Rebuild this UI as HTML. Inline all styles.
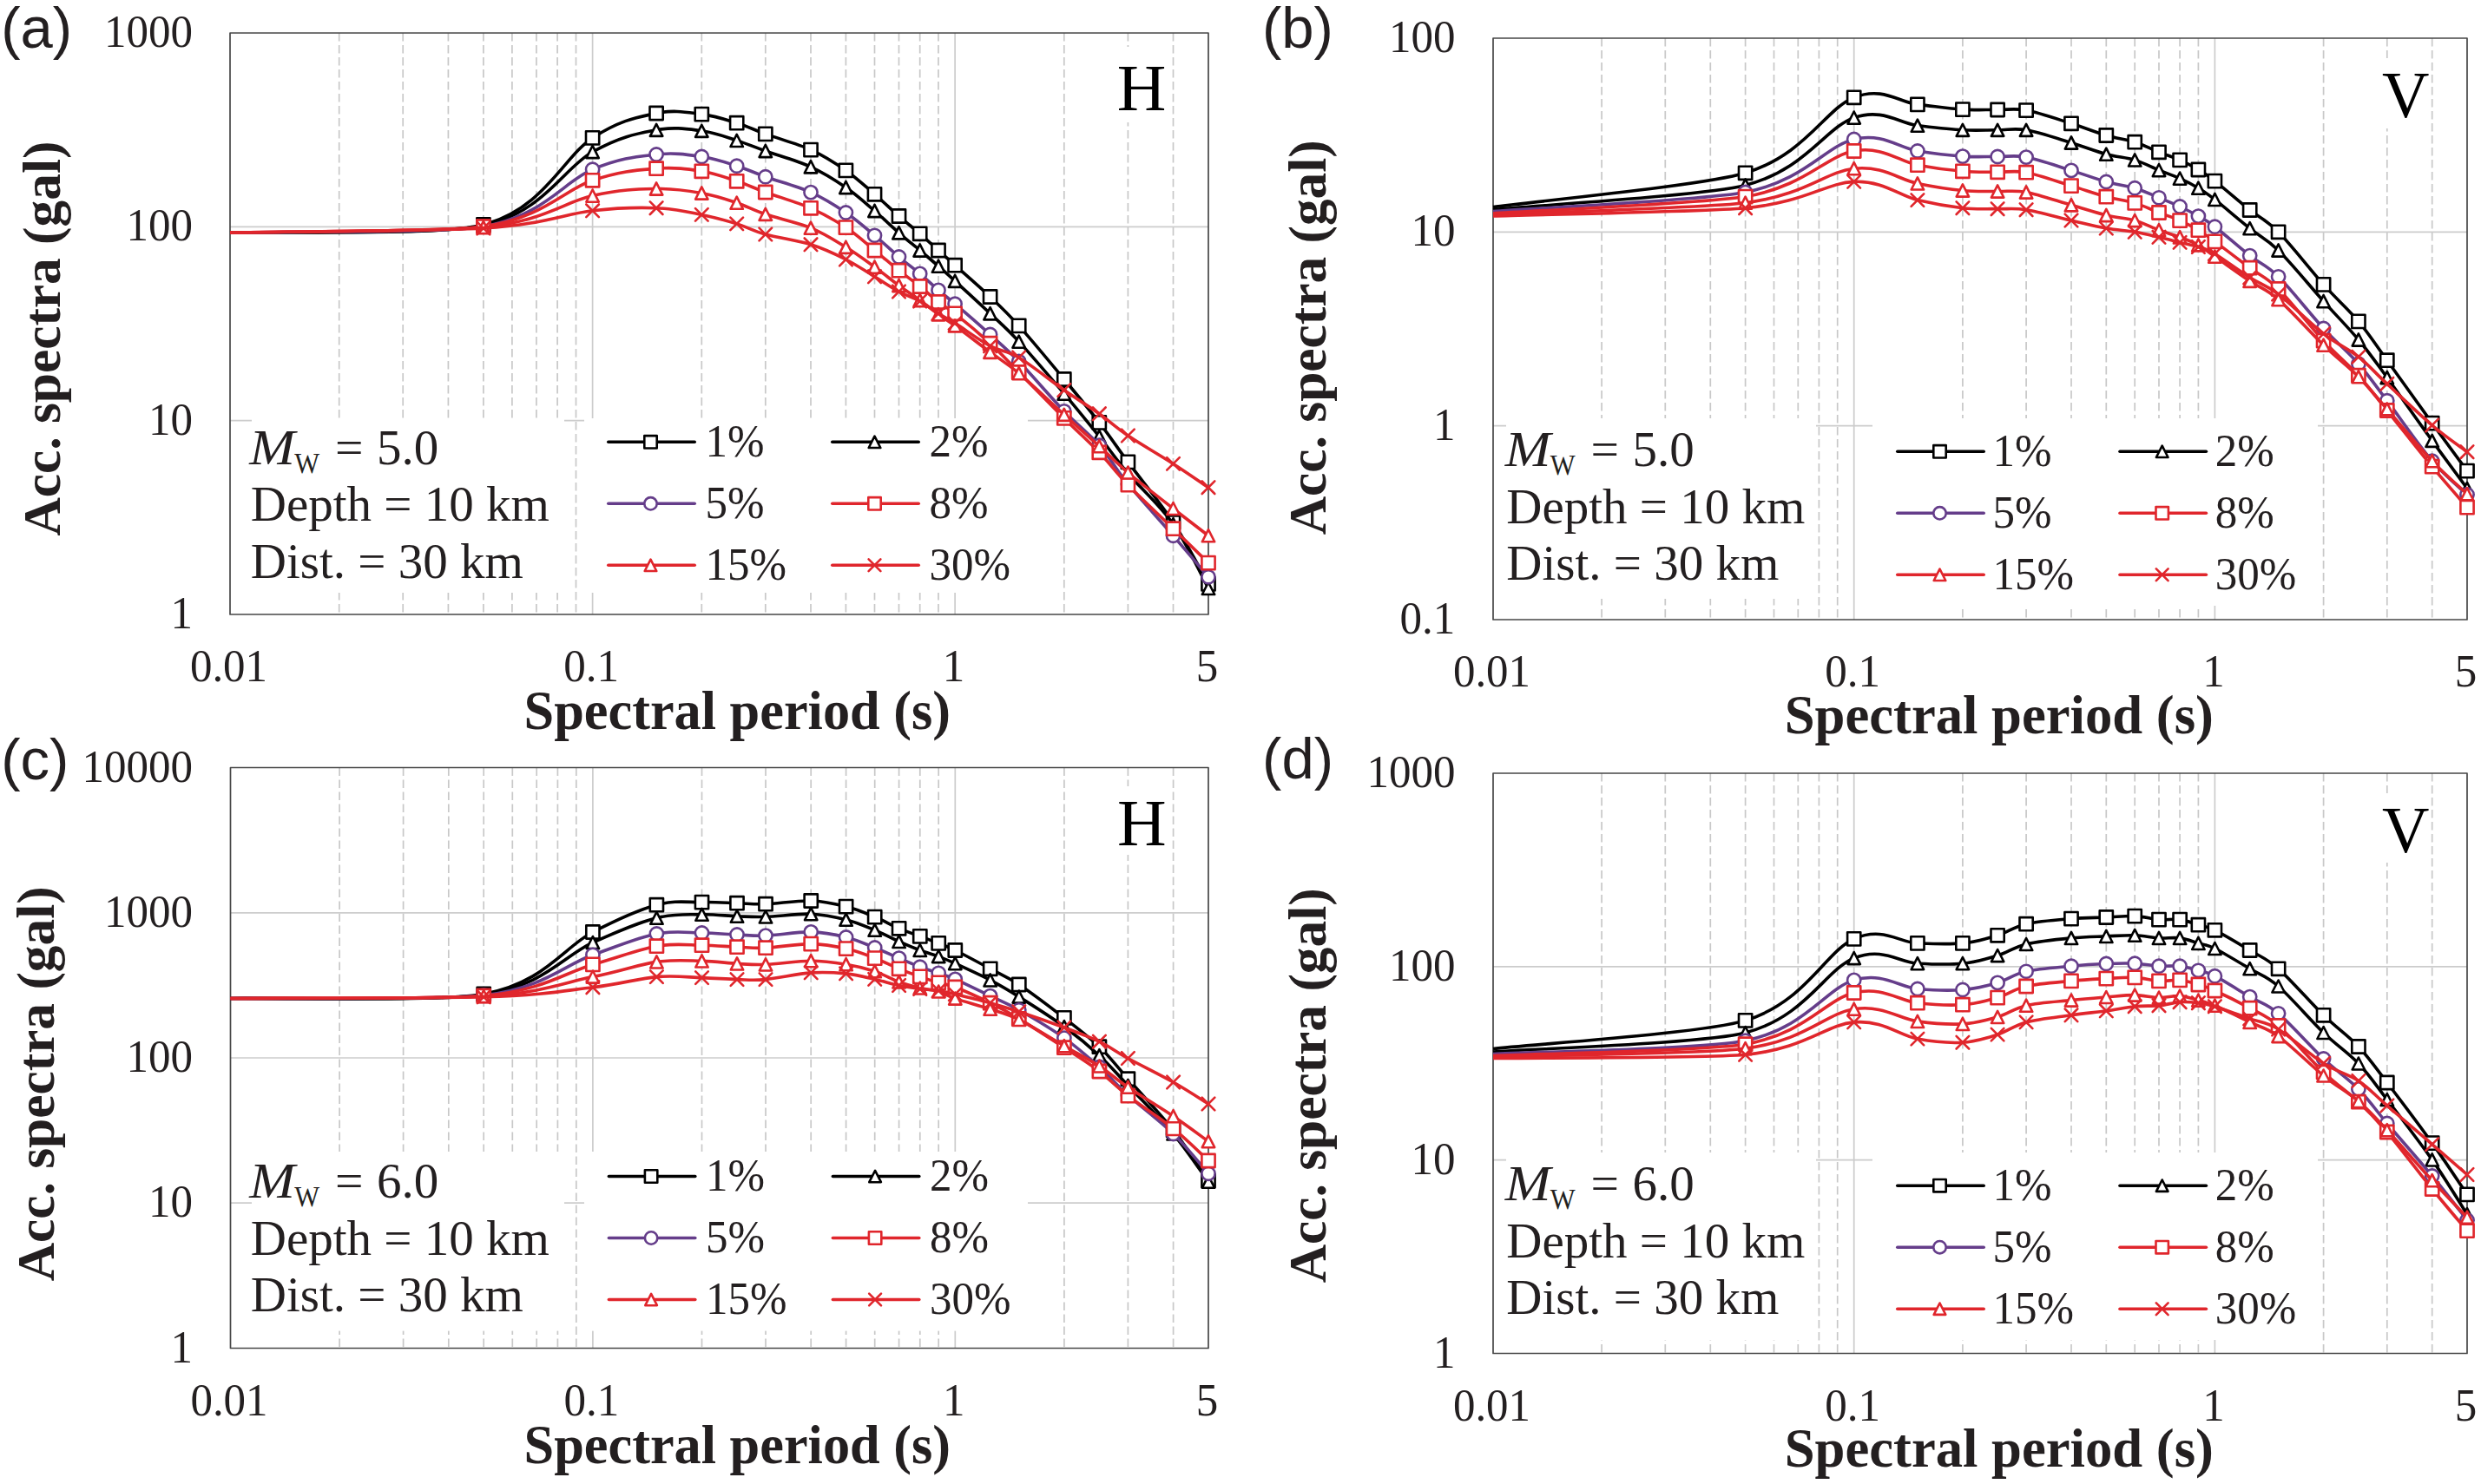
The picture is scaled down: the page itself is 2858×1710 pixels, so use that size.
<!DOCTYPE html>
<html><head><meta charset="utf-8"><style>html,body{margin:0;padding:0;background:#fff;overflow:hidden}svg{display:block}</style></head><body>
<svg width="2858" height="1710" viewBox="0 0 2858 1710">
<rect width="2858" height="1710" fill="#fff"/>
<g>
<line x1="390.7" y1="38.0" x2="390.7" y2="708.0" stroke="#c8c8c8" stroke-width="1.7" stroke-dasharray="9.5 4.5"/>
<line x1="464.2" y1="38.0" x2="464.2" y2="708.0" stroke="#c8c8c8" stroke-width="1.7" stroke-dasharray="9.5 4.5"/>
<line x1="516.4" y1="38.0" x2="516.4" y2="708.0" stroke="#c8c8c8" stroke-width="1.7" stroke-dasharray="9.5 4.5"/>
<line x1="556.9" y1="38.0" x2="556.9" y2="708.0" stroke="#c8c8c8" stroke-width="1.7" stroke-dasharray="9.5 4.5"/>
<line x1="589.9" y1="38.0" x2="589.9" y2="708.0" stroke="#c8c8c8" stroke-width="1.7" stroke-dasharray="9.5 4.5"/>
<line x1="617.9" y1="38.0" x2="617.9" y2="708.0" stroke="#c8c8c8" stroke-width="1.7" stroke-dasharray="9.5 4.5"/>
<line x1="642.1" y1="38.0" x2="642.1" y2="708.0" stroke="#c8c8c8" stroke-width="1.7" stroke-dasharray="9.5 4.5"/>
<line x1="663.5" y1="38.0" x2="663.5" y2="708.0" stroke="#c8c8c8" stroke-width="1.7" stroke-dasharray="9.5 4.5"/>
<line x1="808.3" y1="38.0" x2="808.3" y2="708.0" stroke="#c8c8c8" stroke-width="1.7" stroke-dasharray="9.5 4.5"/>
<line x1="881.8" y1="38.0" x2="881.8" y2="708.0" stroke="#c8c8c8" stroke-width="1.7" stroke-dasharray="9.5 4.5"/>
<line x1="934.0" y1="38.0" x2="934.0" y2="708.0" stroke="#c8c8c8" stroke-width="1.7" stroke-dasharray="9.5 4.5"/>
<line x1="974.4" y1="38.0" x2="974.4" y2="708.0" stroke="#c8c8c8" stroke-width="1.7" stroke-dasharray="9.5 4.5"/>
<line x1="1007.5" y1="38.0" x2="1007.5" y2="708.0" stroke="#c8c8c8" stroke-width="1.7" stroke-dasharray="9.5 4.5"/>
<line x1="1035.5" y1="38.0" x2="1035.5" y2="708.0" stroke="#c8c8c8" stroke-width="1.7" stroke-dasharray="9.5 4.5"/>
<line x1="1059.7" y1="38.0" x2="1059.7" y2="708.0" stroke="#c8c8c8" stroke-width="1.7" stroke-dasharray="9.5 4.5"/>
<line x1="1081.0" y1="38.0" x2="1081.0" y2="708.0" stroke="#c8c8c8" stroke-width="1.7" stroke-dasharray="9.5 4.5"/>
<line x1="1225.8" y1="38.0" x2="1225.8" y2="708.0" stroke="#c8c8c8" stroke-width="1.7" stroke-dasharray="9.5 4.5"/>
<line x1="1299.4" y1="38.0" x2="1299.4" y2="708.0" stroke="#c8c8c8" stroke-width="1.7" stroke-dasharray="9.5 4.5"/>
<line x1="1351.5" y1="38.0" x2="1351.5" y2="708.0" stroke="#c8c8c8" stroke-width="1.7" stroke-dasharray="9.5 4.5"/>
<line x1="682.6" y1="38.0" x2="682.6" y2="708.0" stroke="#cccccc" stroke-width="1.7"/>
<line x1="1100.1" y1="38.0" x2="1100.1" y2="708.0" stroke="#cccccc" stroke-width="1.7"/>
<line x1="265.0" y1="484.7" x2="1392.0" y2="484.7" stroke="#cccccc" stroke-width="1.7"/>
<line x1="265.0" y1="261.3" x2="1392.0" y2="261.3" stroke="#cccccc" stroke-width="1.7"/>
<rect x="290.0" y="482.0" width="360.0" height="201.0" fill="#fff"/>
<rect x="673.0" y="482.0" width="511.0" height="201.0" fill="#fff"/>
<rect x="1285.0" y="54.0" width="60.0" height="87.0" fill="#fff"/>
<rect x="265.0" y="38.0" width="1127.0" height="670.0" fill="none" stroke="#474747" stroke-width="1.7" stroke-linejoin="round"/>
<path d="M265.0,268.0 C313.6,266.5 507.5,271.9 556.9,259.0 C626.5,240.8 649.4,180.3 682.6,158.9 C715.8,137.5 735.1,135.1 756.1,130.5 C777.0,126.0 792.8,129.7 808.3,131.6 C823.7,133.5 836.5,137.9 848.7,141.7 C861.0,145.5 867.6,149.2 881.8,154.4 C896.0,159.6 918.5,165.6 934.0,172.6 C949.4,179.6 962.2,187.9 974.4,196.4 C986.7,204.9 997.3,215.0 1007.5,223.8 C1017.7,232.6 1026.8,241.4 1035.5,249.0 C1044.1,256.6 1052.1,262.7 1059.7,269.3 C1067.3,275.9 1074.3,282.4 1081.0,288.5 C1087.8,294.6 1090.2,296.8 1100.1,305.7 C1110.1,314.6 1128.3,330.4 1140.6,342.0 C1152.9,353.6 1159.5,359.6 1173.7,375.4 C1187.9,391.2 1210.4,418.4 1225.8,437.0 C1241.3,455.6 1254.0,471.0 1266.3,486.9 C1278.6,502.8 1285.2,513.2 1299.4,532.4 C1313.6,551.6 1336.1,578.6 1351.5,602.0 C1367.0,625.4 1385.3,661.1 1392.0,672.9" fill="none" stroke="#000000" stroke-width="3.6" stroke-linejoin="round"/>
<rect x="549.3" y="251.4" width="15.2" height="15.2" fill="#fff" stroke="#000000" stroke-width="2.6" stroke-linejoin="round"/>
<rect x="675.0" y="151.3" width="15.2" height="15.2" fill="#fff" stroke="#000000" stroke-width="2.6" stroke-linejoin="round"/>
<rect x="748.5" y="122.9" width="15.2" height="15.2" fill="#fff" stroke="#000000" stroke-width="2.6" stroke-linejoin="round"/>
<rect x="800.7" y="124.0" width="15.2" height="15.2" fill="#fff" stroke="#000000" stroke-width="2.6" stroke-linejoin="round"/>
<rect x="841.1" y="134.1" width="15.2" height="15.2" fill="#fff" stroke="#000000" stroke-width="2.6" stroke-linejoin="round"/>
<rect x="874.2" y="146.8" width="15.2" height="15.2" fill="#fff" stroke="#000000" stroke-width="2.6" stroke-linejoin="round"/>
<rect x="926.4" y="165.0" width="15.2" height="15.2" fill="#fff" stroke="#000000" stroke-width="2.6" stroke-linejoin="round"/>
<rect x="966.8" y="188.8" width="15.2" height="15.2" fill="#fff" stroke="#000000" stroke-width="2.6" stroke-linejoin="round"/>
<rect x="999.9" y="216.2" width="15.2" height="15.2" fill="#fff" stroke="#000000" stroke-width="2.6" stroke-linejoin="round"/>
<rect x="1027.9" y="241.4" width="15.2" height="15.2" fill="#fff" stroke="#000000" stroke-width="2.6" stroke-linejoin="round"/>
<rect x="1052.1" y="261.7" width="15.2" height="15.2" fill="#fff" stroke="#000000" stroke-width="2.6" stroke-linejoin="round"/>
<rect x="1073.4" y="280.9" width="15.2" height="15.2" fill="#fff" stroke="#000000" stroke-width="2.6" stroke-linejoin="round"/>
<rect x="1092.5" y="298.1" width="15.2" height="15.2" fill="#fff" stroke="#000000" stroke-width="2.6" stroke-linejoin="round"/>
<rect x="1133.0" y="334.4" width="15.2" height="15.2" fill="#fff" stroke="#000000" stroke-width="2.6" stroke-linejoin="round"/>
<rect x="1166.1" y="367.8" width="15.2" height="15.2" fill="#fff" stroke="#000000" stroke-width="2.6" stroke-linejoin="round"/>
<rect x="1218.2" y="429.4" width="15.2" height="15.2" fill="#fff" stroke="#000000" stroke-width="2.6" stroke-linejoin="round"/>
<rect x="1258.7" y="479.3" width="15.2" height="15.2" fill="#fff" stroke="#000000" stroke-width="2.6" stroke-linejoin="round"/>
<rect x="1291.8" y="524.8" width="15.2" height="15.2" fill="#fff" stroke="#000000" stroke-width="2.6" stroke-linejoin="round"/>
<rect x="1343.9" y="594.4" width="15.2" height="15.2" fill="#fff" stroke="#000000" stroke-width="2.6" stroke-linejoin="round"/>
<rect x="1384.4" y="665.3" width="15.2" height="15.2" fill="#fff" stroke="#000000" stroke-width="2.6" stroke-linejoin="round"/>
<path d="M265.0,268.0 C313.6,266.7 509.3,270.6 556.9,260.0 C626.5,244.5 649.4,193.4 682.6,175.0 C715.8,156.6 735.1,153.8 756.1,149.8 C777.0,145.8 792.8,148.8 808.3,150.8 C823.7,152.8 836.5,158.0 848.7,161.9 C861.0,165.8 867.6,168.9 881.8,174.0 C896.0,179.1 918.5,185.3 934.0,192.3 C949.4,199.3 962.2,207.6 974.4,216.0 C986.7,224.4 997.3,234.3 1007.5,243.0 C1017.7,251.7 1026.8,260.7 1035.5,268.3 C1044.1,275.9 1052.1,282.1 1059.7,288.5 C1067.3,294.9 1074.3,300.8 1081.0,306.7 C1087.8,312.6 1090.2,314.8 1100.1,323.9 C1110.1,333.0 1128.3,349.7 1140.6,361.3 C1152.9,372.9 1159.5,378.2 1173.7,393.6 C1187.9,409.0 1210.4,435.4 1225.8,453.6 C1241.3,471.8 1254.0,487.7 1266.3,503.0 C1278.6,518.3 1285.2,528.7 1299.4,545.5 C1313.6,562.3 1336.1,581.9 1351.5,604.0 C1367.0,626.1 1385.3,665.7 1392.0,678.0" fill="none" stroke="#000000" stroke-width="3.6" stroke-linejoin="round"/>
<path d="M556.9,252.9 L564.1,267.1 L549.7,267.1 Z" fill="#fff" stroke="#000000" stroke-width="2.6" stroke-linejoin="round"/>
<path d="M682.6,167.9 L689.8,182.1 L675.4,182.1 Z" fill="#fff" stroke="#000000" stroke-width="2.6" stroke-linejoin="round"/>
<path d="M756.1,142.8 L763.3,156.9 L748.9,156.9 Z" fill="#fff" stroke="#000000" stroke-width="2.6" stroke-linejoin="round"/>
<path d="M808.3,143.8 L815.5,157.9 L801.1,157.9 Z" fill="#fff" stroke="#000000" stroke-width="2.6" stroke-linejoin="round"/>
<path d="M848.7,154.8 L855.9,169.0 L841.5,169.0 Z" fill="#fff" stroke="#000000" stroke-width="2.6" stroke-linejoin="round"/>
<path d="M881.8,166.9 L889.0,181.1 L874.6,181.1 Z" fill="#fff" stroke="#000000" stroke-width="2.6" stroke-linejoin="round"/>
<path d="M934.0,185.2 L941.2,199.4 L926.8,199.4 Z" fill="#fff" stroke="#000000" stroke-width="2.6" stroke-linejoin="round"/>
<path d="M974.4,208.9 L981.6,223.1 L967.2,223.1 Z" fill="#fff" stroke="#000000" stroke-width="2.6" stroke-linejoin="round"/>
<path d="M1007.5,235.9 L1014.7,250.1 L1000.3,250.1 Z" fill="#fff" stroke="#000000" stroke-width="2.6" stroke-linejoin="round"/>
<path d="M1035.5,261.2 L1042.7,275.4 L1028.3,275.4 Z" fill="#fff" stroke="#000000" stroke-width="2.6" stroke-linejoin="round"/>
<path d="M1059.7,281.4 L1066.9,295.6 L1052.5,295.6 Z" fill="#fff" stroke="#000000" stroke-width="2.6" stroke-linejoin="round"/>
<path d="M1081.0,299.6 L1088.2,313.8 L1073.8,313.8 Z" fill="#fff" stroke="#000000" stroke-width="2.6" stroke-linejoin="round"/>
<path d="M1100.1,316.8 L1107.3,330.9 L1092.9,330.9 Z" fill="#fff" stroke="#000000" stroke-width="2.6" stroke-linejoin="round"/>
<path d="M1140.6,354.2 L1147.8,368.4 L1133.4,368.4 Z" fill="#fff" stroke="#000000" stroke-width="2.6" stroke-linejoin="round"/>
<path d="M1173.7,386.6 L1180.9,400.7 L1166.5,400.7 Z" fill="#fff" stroke="#000000" stroke-width="2.6" stroke-linejoin="round"/>
<path d="M1225.8,446.6 L1233.0,460.7 L1218.6,460.7 Z" fill="#fff" stroke="#000000" stroke-width="2.6" stroke-linejoin="round"/>
<path d="M1266.3,495.9 L1273.5,510.1 L1259.1,510.1 Z" fill="#fff" stroke="#000000" stroke-width="2.6" stroke-linejoin="round"/>
<path d="M1299.4,538.5 L1306.6,552.5 L1292.2,552.5 Z" fill="#fff" stroke="#000000" stroke-width="2.6" stroke-linejoin="round"/>
<path d="M1351.5,597.0 L1358.7,611.0 L1344.3,611.0 Z" fill="#fff" stroke="#000000" stroke-width="2.6" stroke-linejoin="round"/>
<path d="M1392.0,671.0 L1399.2,685.0 L1384.8,685.0 Z" fill="#fff" stroke="#000000" stroke-width="2.6" stroke-linejoin="round"/>
<path d="M265.0,268.0 C313.6,266.8 511.3,268.9 556.9,261.0 C626.5,248.9 649.4,209.0 682.6,195.2 C715.8,181.4 735.1,180.4 756.1,178.0 C777.0,175.6 792.8,178.3 808.3,180.5 C823.7,182.7 836.5,187.3 848.7,191.2 C861.0,195.1 867.6,198.6 881.8,203.7 C896.0,208.8 918.5,214.7 934.0,221.6 C949.4,228.5 962.2,236.7 974.4,245.0 C986.7,253.3 997.3,262.8 1007.5,271.3 C1017.7,279.8 1026.8,288.6 1035.5,296.0 C1044.1,303.4 1052.1,309.0 1059.7,315.4 C1067.3,321.8 1074.3,328.6 1081.0,334.4 C1087.8,340.2 1090.2,341.7 1100.1,350.2 C1110.1,358.7 1128.3,374.4 1140.6,385.5 C1152.9,396.6 1159.5,401.8 1173.7,416.5 C1187.9,431.2 1210.4,457.7 1225.8,473.8 C1241.3,489.9 1254.0,499.2 1266.3,513.2 C1278.6,527.2 1285.2,540.4 1299.4,557.7 C1313.6,575.1 1336.1,599.4 1351.5,617.3 C1367.0,635.1 1385.3,656.9 1392.0,664.8" fill="none" stroke="#653d8a" stroke-width="3.6" stroke-linejoin="round"/>
<circle cx="556.9" cy="261.0" r="7.6" fill="#fff" stroke="#653d8a" stroke-width="2.6"/>
<circle cx="682.6" cy="195.2" r="7.6" fill="#fff" stroke="#653d8a" stroke-width="2.6"/>
<circle cx="756.1" cy="178.0" r="7.6" fill="#fff" stroke="#653d8a" stroke-width="2.6"/>
<circle cx="808.3" cy="180.5" r="7.6" fill="#fff" stroke="#653d8a" stroke-width="2.6"/>
<circle cx="848.7" cy="191.2" r="7.6" fill="#fff" stroke="#653d8a" stroke-width="2.6"/>
<circle cx="881.8" cy="203.7" r="7.6" fill="#fff" stroke="#653d8a" stroke-width="2.6"/>
<circle cx="934.0" cy="221.6" r="7.6" fill="#fff" stroke="#653d8a" stroke-width="2.6"/>
<circle cx="974.4" cy="245.0" r="7.6" fill="#fff" stroke="#653d8a" stroke-width="2.6"/>
<circle cx="1007.5" cy="271.3" r="7.6" fill="#fff" stroke="#653d8a" stroke-width="2.6"/>
<circle cx="1035.5" cy="296.0" r="7.6" fill="#fff" stroke="#653d8a" stroke-width="2.6"/>
<circle cx="1059.7" cy="315.4" r="7.6" fill="#fff" stroke="#653d8a" stroke-width="2.6"/>
<circle cx="1081.0" cy="334.4" r="7.6" fill="#fff" stroke="#653d8a" stroke-width="2.6"/>
<circle cx="1100.1" cy="350.2" r="7.6" fill="#fff" stroke="#653d8a" stroke-width="2.6"/>
<circle cx="1140.6" cy="385.5" r="7.6" fill="#fff" stroke="#653d8a" stroke-width="2.6"/>
<circle cx="1173.7" cy="416.5" r="7.6" fill="#fff" stroke="#653d8a" stroke-width="2.6"/>
<circle cx="1225.8" cy="473.8" r="7.6" fill="#fff" stroke="#653d8a" stroke-width="2.6"/>
<circle cx="1266.3" cy="513.2" r="7.6" fill="#fff" stroke="#653d8a" stroke-width="2.6"/>
<circle cx="1299.4" cy="557.7" r="7.6" fill="#fff" stroke="#653d8a" stroke-width="2.6"/>
<circle cx="1351.5" cy="617.3" r="7.6" fill="#fff" stroke="#653d8a" stroke-width="2.6"/>
<circle cx="1392.0" cy="664.8" r="7.6" fill="#fff" stroke="#653d8a" stroke-width="2.6"/>
<path d="M265.0,268.0 C313.6,266.8 512.5,267.4 556.9,261.0 C626.5,251.0 649.4,218.9 682.6,207.8 C715.8,196.7 735.1,195.9 756.1,194.2 C777.0,192.4 792.8,194.9 808.3,197.3 C823.7,199.7 836.5,204.8 848.7,208.8 C861.0,212.8 867.6,216.3 881.8,221.5 C896.0,226.7 918.5,233.0 934.0,239.8 C949.4,246.6 962.2,254.0 974.4,262.1 C986.7,270.2 997.3,280.2 1007.5,288.5 C1017.7,296.8 1026.8,304.8 1035.5,311.7 C1044.1,318.6 1052.1,323.9 1059.7,330.0 C1067.3,336.1 1074.3,342.8 1081.0,348.0 C1087.8,353.2 1090.2,353.4 1100.1,361.3 C1110.1,369.2 1128.3,384.4 1140.6,395.7 C1152.9,407.0 1159.5,414.6 1173.7,429.0 C1187.9,443.4 1210.4,466.5 1225.8,481.9 C1241.3,497.3 1254.0,508.5 1266.3,521.3 C1278.6,534.1 1285.2,544.1 1299.4,558.7 C1313.6,573.4 1336.1,594.2 1351.5,609.2 C1367.0,624.2 1385.3,642.0 1392.0,648.6" fill="none" stroke="#e0262c" stroke-width="3.6" stroke-linejoin="round"/>
<rect x="549.3" y="253.4" width="15.2" height="15.2" fill="#fff" stroke="#e0262c" stroke-width="2.6" stroke-linejoin="round"/>
<rect x="675.0" y="200.2" width="15.2" height="15.2" fill="#fff" stroke="#e0262c" stroke-width="2.6" stroke-linejoin="round"/>
<rect x="748.5" y="186.6" width="15.2" height="15.2" fill="#fff" stroke="#e0262c" stroke-width="2.6" stroke-linejoin="round"/>
<rect x="800.7" y="189.7" width="15.2" height="15.2" fill="#fff" stroke="#e0262c" stroke-width="2.6" stroke-linejoin="round"/>
<rect x="841.1" y="201.2" width="15.2" height="15.2" fill="#fff" stroke="#e0262c" stroke-width="2.6" stroke-linejoin="round"/>
<rect x="874.2" y="213.9" width="15.2" height="15.2" fill="#fff" stroke="#e0262c" stroke-width="2.6" stroke-linejoin="round"/>
<rect x="926.4" y="232.2" width="15.2" height="15.2" fill="#fff" stroke="#e0262c" stroke-width="2.6" stroke-linejoin="round"/>
<rect x="966.8" y="254.5" width="15.2" height="15.2" fill="#fff" stroke="#e0262c" stroke-width="2.6" stroke-linejoin="round"/>
<rect x="999.9" y="280.9" width="15.2" height="15.2" fill="#fff" stroke="#e0262c" stroke-width="2.6" stroke-linejoin="round"/>
<rect x="1027.9" y="304.1" width="15.2" height="15.2" fill="#fff" stroke="#e0262c" stroke-width="2.6" stroke-linejoin="round"/>
<rect x="1052.1" y="322.4" width="15.2" height="15.2" fill="#fff" stroke="#e0262c" stroke-width="2.6" stroke-linejoin="round"/>
<rect x="1073.4" y="340.4" width="15.2" height="15.2" fill="#fff" stroke="#e0262c" stroke-width="2.6" stroke-linejoin="round"/>
<rect x="1092.5" y="353.7" width="15.2" height="15.2" fill="#fff" stroke="#e0262c" stroke-width="2.6" stroke-linejoin="round"/>
<rect x="1133.0" y="388.1" width="15.2" height="15.2" fill="#fff" stroke="#e0262c" stroke-width="2.6" stroke-linejoin="round"/>
<rect x="1166.1" y="421.4" width="15.2" height="15.2" fill="#fff" stroke="#e0262c" stroke-width="2.6" stroke-linejoin="round"/>
<rect x="1218.2" y="474.3" width="15.2" height="15.2" fill="#fff" stroke="#e0262c" stroke-width="2.6" stroke-linejoin="round"/>
<rect x="1258.7" y="513.7" width="15.2" height="15.2" fill="#fff" stroke="#e0262c" stroke-width="2.6" stroke-linejoin="round"/>
<rect x="1291.8" y="551.1" width="15.2" height="15.2" fill="#fff" stroke="#e0262c" stroke-width="2.6" stroke-linejoin="round"/>
<rect x="1343.9" y="601.6" width="15.2" height="15.2" fill="#fff" stroke="#e0262c" stroke-width="2.6" stroke-linejoin="round"/>
<rect x="1384.4" y="641.0" width="15.2" height="15.2" fill="#fff" stroke="#e0262c" stroke-width="2.6" stroke-linejoin="round"/>
<path d="M265.0,268.0 C313.6,267.0 513.8,266.4 556.9,262.0 C626.5,254.9 649.4,233.0 682.6,225.6 C715.8,218.2 735.1,218.0 756.1,217.5 C777.0,217.0 792.8,219.8 808.3,222.5 C823.7,225.2 836.5,229.6 848.7,233.7 C861.0,237.8 867.6,242.0 881.8,246.8 C896.0,251.6 918.5,256.3 934.0,262.6 C949.4,268.9 962.2,277.3 974.4,284.8 C986.7,292.3 997.3,300.3 1007.5,307.7 C1017.7,315.1 1026.8,322.6 1035.5,329.0 C1044.1,335.4 1052.1,340.4 1059.7,346.0 C1067.3,351.6 1074.3,357.4 1081.0,362.3 C1087.8,367.2 1090.2,368.1 1100.1,375.4 C1110.1,382.6 1128.3,396.7 1140.6,405.8 C1152.9,414.9 1159.5,418.2 1173.7,430.2 C1187.9,442.2 1210.4,463.8 1225.8,477.8 C1241.3,491.8 1254.0,503.1 1266.3,514.2 C1278.6,525.3 1285.2,532.5 1299.4,544.5 C1313.6,556.5 1336.1,573.9 1351.5,586.0 C1367.0,598.1 1385.3,612.1 1392.0,617.3" fill="none" stroke="#e0262c" stroke-width="3.6" stroke-linejoin="round"/>
<path d="M556.9,254.9 L564.1,269.1 L549.7,269.1 Z" fill="#fff" stroke="#e0262c" stroke-width="2.6" stroke-linejoin="round"/>
<path d="M682.6,218.5 L689.8,232.7 L675.4,232.7 Z" fill="#fff" stroke="#e0262c" stroke-width="2.6" stroke-linejoin="round"/>
<path d="M756.1,210.4 L763.3,224.6 L748.9,224.6 Z" fill="#fff" stroke="#e0262c" stroke-width="2.6" stroke-linejoin="round"/>
<path d="M808.3,215.4 L815.5,229.6 L801.1,229.6 Z" fill="#fff" stroke="#e0262c" stroke-width="2.6" stroke-linejoin="round"/>
<path d="M848.7,226.6 L855.9,240.8 L841.5,240.8 Z" fill="#fff" stroke="#e0262c" stroke-width="2.6" stroke-linejoin="round"/>
<path d="M881.8,239.8 L889.0,253.9 L874.6,253.9 Z" fill="#fff" stroke="#e0262c" stroke-width="2.6" stroke-linejoin="round"/>
<path d="M934.0,255.6 L941.2,269.7 L926.8,269.7 Z" fill="#fff" stroke="#e0262c" stroke-width="2.6" stroke-linejoin="round"/>
<path d="M974.4,277.8 L981.6,291.9 L967.2,291.9 Z" fill="#fff" stroke="#e0262c" stroke-width="2.6" stroke-linejoin="round"/>
<path d="M1007.5,300.6 L1014.7,314.8 L1000.3,314.8 Z" fill="#fff" stroke="#e0262c" stroke-width="2.6" stroke-linejoin="round"/>
<path d="M1035.5,321.9 L1042.7,336.1 L1028.3,336.1 Z" fill="#fff" stroke="#e0262c" stroke-width="2.6" stroke-linejoin="round"/>
<path d="M1059.7,338.9 L1066.9,353.1 L1052.5,353.1 Z" fill="#fff" stroke="#e0262c" stroke-width="2.6" stroke-linejoin="round"/>
<path d="M1081.0,355.2 L1088.2,369.4 L1073.8,369.4 Z" fill="#fff" stroke="#e0262c" stroke-width="2.6" stroke-linejoin="round"/>
<path d="M1100.1,368.3 L1107.3,382.4 L1092.9,382.4 Z" fill="#fff" stroke="#e0262c" stroke-width="2.6" stroke-linejoin="round"/>
<path d="M1140.6,398.8 L1147.8,412.9 L1133.4,412.9 Z" fill="#fff" stroke="#e0262c" stroke-width="2.6" stroke-linejoin="round"/>
<path d="M1173.7,423.1 L1180.9,437.2 L1166.5,437.2 Z" fill="#fff" stroke="#e0262c" stroke-width="2.6" stroke-linejoin="round"/>
<path d="M1225.8,470.8 L1233.0,484.9 L1218.6,484.9 Z" fill="#fff" stroke="#e0262c" stroke-width="2.6" stroke-linejoin="round"/>
<path d="M1266.3,507.2 L1273.5,521.2 L1259.1,521.2 Z" fill="#fff" stroke="#e0262c" stroke-width="2.6" stroke-linejoin="round"/>
<path d="M1299.4,537.5 L1306.6,551.5 L1292.2,551.5 Z" fill="#fff" stroke="#e0262c" stroke-width="2.6" stroke-linejoin="round"/>
<path d="M1351.5,579.0 L1358.7,593.0 L1344.3,593.0 Z" fill="#fff" stroke="#e0262c" stroke-width="2.6" stroke-linejoin="round"/>
<path d="M1392.0,610.2 L1399.2,624.3 L1384.8,624.3 Z" fill="#fff" stroke="#e0262c" stroke-width="2.6" stroke-linejoin="round"/>
<path d="M265.0,268.0 C313.6,267.2 514.6,265.6 556.9,263.0 C626.5,258.8 649.4,246.7 682.6,242.8 C715.8,238.9 735.1,238.9 756.1,239.7 C777.0,240.5 792.8,244.4 808.3,247.4 C823.7,250.4 836.5,254.1 848.7,257.9 C861.0,261.7 867.6,266.0 881.8,270.0 C896.0,274.0 918.5,277.0 934.0,281.8 C949.4,286.6 962.2,292.8 974.4,299.0 C986.7,305.2 997.3,312.6 1007.5,318.8 C1017.7,325.0 1026.8,331.3 1035.5,336.0 C1044.1,340.7 1052.1,342.8 1059.7,347.0 C1067.3,351.2 1074.3,357.1 1081.0,361.3 C1087.8,365.5 1090.2,366.2 1100.1,372.4 C1110.1,378.6 1128.3,392.1 1140.6,398.7 C1152.9,405.3 1159.5,403.5 1173.7,412.0 C1187.9,420.5 1210.4,438.7 1225.8,449.5 C1241.3,460.3 1254.0,468.1 1266.3,476.8 C1278.6,485.6 1285.2,492.4 1299.4,502.0 C1313.6,511.6 1336.1,524.4 1351.5,534.4 C1367.0,544.4 1385.3,557.2 1392.0,561.7" fill="none" stroke="#e0262c" stroke-width="3.6" stroke-linejoin="round"/>
<path d="M549.6,255.7 L564.2,270.3 M549.6,270.3 L564.2,255.7" stroke="#e0262c" stroke-width="2.6" stroke-linecap="round"/>
<path d="M675.3,235.5 L689.9,250.1 M675.3,250.1 L689.9,235.5" stroke="#e0262c" stroke-width="2.6" stroke-linecap="round"/>
<path d="M748.8,232.4 L763.4,247.0 M748.8,247.0 L763.4,232.4" stroke="#e0262c" stroke-width="2.6" stroke-linecap="round"/>
<path d="M801.0,240.1 L815.6,254.7 M801.0,254.7 L815.6,240.1" stroke="#e0262c" stroke-width="2.6" stroke-linecap="round"/>
<path d="M841.4,250.6 L856.0,265.2 M841.4,265.2 L856.0,250.6" stroke="#e0262c" stroke-width="2.6" stroke-linecap="round"/>
<path d="M874.5,262.7 L889.1,277.3 M874.5,277.3 L889.1,262.7" stroke="#e0262c" stroke-width="2.6" stroke-linecap="round"/>
<path d="M926.7,274.5 L941.3,289.1 M926.7,289.1 L941.3,274.5" stroke="#e0262c" stroke-width="2.6" stroke-linecap="round"/>
<path d="M967.1,291.7 L981.7,306.3 M967.1,306.3 L981.7,291.7" stroke="#e0262c" stroke-width="2.6" stroke-linecap="round"/>
<path d="M1000.2,311.5 L1014.8,326.1 M1000.2,326.1 L1014.8,311.5" stroke="#e0262c" stroke-width="2.6" stroke-linecap="round"/>
<path d="M1028.2,328.7 L1042.8,343.3 M1028.2,343.3 L1042.8,328.7" stroke="#e0262c" stroke-width="2.6" stroke-linecap="round"/>
<path d="M1052.4,339.7 L1067.0,354.3 M1052.4,354.3 L1067.0,339.7" stroke="#e0262c" stroke-width="2.6" stroke-linecap="round"/>
<path d="M1073.7,354.0 L1088.3,368.6 M1073.7,368.6 L1088.3,354.0" stroke="#e0262c" stroke-width="2.6" stroke-linecap="round"/>
<path d="M1092.8,365.1 L1107.4,379.7 M1092.8,379.7 L1107.4,365.1" stroke="#e0262c" stroke-width="2.6" stroke-linecap="round"/>
<path d="M1133.3,391.4 L1147.9,406.0 M1133.3,406.0 L1147.9,391.4" stroke="#e0262c" stroke-width="2.6" stroke-linecap="round"/>
<path d="M1166.4,404.7 L1181.0,419.3 M1166.4,419.3 L1181.0,404.7" stroke="#e0262c" stroke-width="2.6" stroke-linecap="round"/>
<path d="M1218.5,442.2 L1233.1,456.8 M1218.5,456.8 L1233.1,442.2" stroke="#e0262c" stroke-width="2.6" stroke-linecap="round"/>
<path d="M1259.0,469.5 L1273.6,484.1 M1259.0,484.1 L1273.6,469.5" stroke="#e0262c" stroke-width="2.6" stroke-linecap="round"/>
<path d="M1292.1,494.7 L1306.7,509.3 M1292.1,509.3 L1306.7,494.7" stroke="#e0262c" stroke-width="2.6" stroke-linecap="round"/>
<path d="M1344.2,527.1 L1358.8,541.7 M1344.2,541.7 L1358.8,527.1" stroke="#e0262c" stroke-width="2.6" stroke-linecap="round"/>
<path d="M1384.7,554.4 L1399.3,569.0 M1384.7,569.0 L1399.3,554.4" stroke="#e0262c" stroke-width="2.6" stroke-linecap="round"/>
<text x="222.0" y="724.0" font-family='"Liberation Serif", serif' font-size="52.5" font-weight="normal" font-style="normal" text-anchor="end" fill="#231f20" textLength="25.5" lengthAdjust="spacingAndGlyphs">1</text>
<text x="222.0" y="500.7" font-family='"Liberation Serif", serif' font-size="52.5" font-weight="normal" font-style="normal" text-anchor="end" fill="#231f20" textLength="51.0" lengthAdjust="spacingAndGlyphs">10</text>
<text x="222.0" y="277.3" font-family='"Liberation Serif", serif' font-size="52.5" font-weight="normal" font-style="normal" text-anchor="end" fill="#231f20" textLength="76.5" lengthAdjust="spacingAndGlyphs">100</text>
<text x="222.0" y="54.0" font-family='"Liberation Serif", serif' font-size="52.5" font-weight="normal" font-style="normal" text-anchor="end" fill="#231f20" textLength="102.0" lengthAdjust="spacingAndGlyphs">1000</text>
<text x="263.5" y="785.1" font-family='"Liberation Serif", serif' font-size="52.5" font-weight="normal" font-style="normal" text-anchor="middle" fill="#231f20" textLength="89.2" lengthAdjust="spacingAndGlyphs">0.01</text>
<text x="681.1" y="785.1" font-family='"Liberation Serif", serif' font-size="52.5" font-weight="normal" font-style="normal" text-anchor="middle" fill="#231f20" textLength="63.8" lengthAdjust="spacingAndGlyphs">0.1</text>
<text x="1098.6" y="785.1" font-family='"Liberation Serif", serif' font-size="52.5" font-weight="normal" font-style="normal" text-anchor="middle" fill="#231f20" textLength="25.5" lengthAdjust="spacingAndGlyphs">1</text>
<text x="1390.5" y="785.1" font-family='"Liberation Serif", serif' font-size="52.5" font-weight="normal" font-style="normal" text-anchor="middle" fill="#231f20" textLength="25.5" lengthAdjust="spacingAndGlyphs">5</text>
<text x="603.5" y="839.6" font-family='"Liberation Serif", serif' font-size="63.0" font-weight="bold" font-style="normal" text-anchor="start" fill="#231f20" textLength="491.6" lengthAdjust="spacingAndGlyphs">Spectral period (s)</text>
<text transform="translate(69.0,617.6) rotate(-90)" font-family='"Liberation Serif", serif' font-size="62" font-weight="bold" fill="#231f20" textLength="455" lengthAdjust="spacingAndGlyphs">Acc. spectra (gal)</text>
<text x="1.2" y="55.1" font-family='"Liberation Sans", sans-serif' font-size="67.0" font-weight="normal" font-style="normal" text-anchor="start" fill="#231f20" >(a)</text>
<text x="1286.8" y="127.3" font-family='"Liberation Serif", serif' font-size="75.5" font-weight="normal" font-style="normal" text-anchor="start" fill="#231f20" style="fill:#000" textLength="56.6" lengthAdjust="spacingAndGlyphs">H</text>
<text x="287.3" y="534.8" font-family='"Liberation Serif", serif' font-size="57.0" font-weight="normal" font-style="italic" text-anchor="start" fill="#231f20" textLength="52.7" lengthAdjust="spacingAndGlyphs">M</text>
<text x="339.3" y="544.8" font-family='"Liberation Serif", serif' font-size="33.0" font-weight="normal" font-style="normal" text-anchor="start" fill="#231f20" textLength="28.8" lengthAdjust="spacingAndGlyphs">W</text>
<text x="385.9" y="534.8" font-family='"Liberation Serif", serif' font-size="57.0" font-weight="normal" font-style="normal" text-anchor="start" fill="#231f20" textLength="32.5" lengthAdjust="spacingAndGlyphs">=</text>
<text x="433.9" y="534.8" font-family='"Liberation Serif", serif' font-size="57.0" font-weight="normal" font-style="normal" text-anchor="start" fill="#231f20" >5.0</text>
<text x="288.8" y="600.4" font-family='"Liberation Serif", serif' font-size="57.0" font-weight="normal" font-style="normal" text-anchor="start" fill="#231f20" >Depth = 10 km</text>
<text x="288.8" y="666.0" font-family='"Liberation Serif", serif' font-size="57.0" font-weight="normal" font-style="normal" text-anchor="start" fill="#231f20" >Dist. = 30 km</text>
<line x1="700.8" y1="509.3" x2="800.2" y2="509.3" stroke="#000000" stroke-width="3.6" stroke-linecap="round"/>
<rect x="742.3" y="502.1" width="14.4" height="14.4" fill="#fff" stroke="#000000" stroke-width="2.6" stroke-linejoin="round"/>
<text x="812.5" y="525.9" font-family='"Liberation Serif", serif' font-size="52.5" font-weight="normal" font-style="normal" text-anchor="start" fill="#231f20" textLength="68.0" lengthAdjust="spacingAndGlyphs">1%</text>
<line x1="958.8" y1="509.3" x2="1058.2" y2="509.3" stroke="#000000" stroke-width="3.6" stroke-linecap="round"/>
<path d="M1007.5,502.6 L1014.3,516.0 L1000.7,516.0 Z" fill="#fff" stroke="#000000" stroke-width="2.6" stroke-linejoin="round"/>
<text x="1070.5" y="525.9" font-family='"Liberation Serif", serif' font-size="52.5" font-weight="normal" font-style="normal" text-anchor="start" fill="#231f20" textLength="68.0" lengthAdjust="spacingAndGlyphs">2%</text>
<line x1="700.8" y1="580.3" x2="800.2" y2="580.3" stroke="#653d8a" stroke-width="3.6" stroke-linecap="round"/>
<circle cx="749.5" cy="580.3" r="7.2" fill="#fff" stroke="#653d8a" stroke-width="2.6"/>
<text x="812.5" y="596.9" font-family='"Liberation Serif", serif' font-size="52.5" font-weight="normal" font-style="normal" text-anchor="start" fill="#231f20" textLength="68.0" lengthAdjust="spacingAndGlyphs">5%</text>
<line x1="958.8" y1="580.3" x2="1058.2" y2="580.3" stroke="#e0262c" stroke-width="3.6" stroke-linecap="round"/>
<rect x="1000.3" y="573.1" width="14.4" height="14.4" fill="#fff" stroke="#e0262c" stroke-width="2.6" stroke-linejoin="round"/>
<text x="1070.5" y="596.9" font-family='"Liberation Serif", serif' font-size="52.5" font-weight="normal" font-style="normal" text-anchor="start" fill="#231f20" textLength="68.0" lengthAdjust="spacingAndGlyphs">8%</text>
<line x1="700.8" y1="651.3" x2="800.2" y2="651.3" stroke="#e0262c" stroke-width="3.6" stroke-linecap="round"/>
<path d="M749.5,644.6 L756.3,658.0 L742.7,658.0 Z" fill="#fff" stroke="#e0262c" stroke-width="2.6" stroke-linejoin="round"/>
<text x="812.5" y="667.9" font-family='"Liberation Serif", serif' font-size="52.5" font-weight="normal" font-style="normal" text-anchor="start" fill="#231f20" textLength="93.5" lengthAdjust="spacingAndGlyphs">15%</text>
<line x1="958.8" y1="651.3" x2="1058.2" y2="651.3" stroke="#e0262c" stroke-width="3.6" stroke-linecap="round"/>
<path d="M1000.6,644.4 L1014.4,658.2 M1000.6,658.2 L1014.4,644.4" stroke="#e0262c" stroke-width="2.6" stroke-linecap="round"/>
<text x="1070.5" y="667.9" font-family='"Liberation Serif", serif' font-size="52.5" font-weight="normal" font-style="normal" text-anchor="start" fill="#231f20" textLength="93.5" lengthAdjust="spacingAndGlyphs">30%</text>
</g>
<g>
<line x1="1845.1" y1="44.0" x2="1845.1" y2="714.0" stroke="#c8c8c8" stroke-width="1.7" stroke-dasharray="9.5 4.5"/>
<line x1="1918.3" y1="44.0" x2="1918.3" y2="714.0" stroke="#c8c8c8" stroke-width="1.7" stroke-dasharray="9.5 4.5"/>
<line x1="1970.3" y1="44.0" x2="1970.3" y2="714.0" stroke="#c8c8c8" stroke-width="1.7" stroke-dasharray="9.5 4.5"/>
<line x1="2010.6" y1="44.0" x2="2010.6" y2="714.0" stroke="#c8c8c8" stroke-width="1.7" stroke-dasharray="9.5 4.5"/>
<line x1="2043.5" y1="44.0" x2="2043.5" y2="714.0" stroke="#c8c8c8" stroke-width="1.7" stroke-dasharray="9.5 4.5"/>
<line x1="2071.3" y1="44.0" x2="2071.3" y2="714.0" stroke="#c8c8c8" stroke-width="1.7" stroke-dasharray="9.5 4.5"/>
<line x1="2095.4" y1="44.0" x2="2095.4" y2="714.0" stroke="#c8c8c8" stroke-width="1.7" stroke-dasharray="9.5 4.5"/>
<line x1="2116.7" y1="44.0" x2="2116.7" y2="714.0" stroke="#c8c8c8" stroke-width="1.7" stroke-dasharray="9.5 4.5"/>
<line x1="2260.9" y1="44.0" x2="2260.9" y2="714.0" stroke="#c8c8c8" stroke-width="1.7" stroke-dasharray="9.5 4.5"/>
<line x1="2334.1" y1="44.0" x2="2334.1" y2="714.0" stroke="#c8c8c8" stroke-width="1.7" stroke-dasharray="9.5 4.5"/>
<line x1="2386.0" y1="44.0" x2="2386.0" y2="714.0" stroke="#c8c8c8" stroke-width="1.7" stroke-dasharray="9.5 4.5"/>
<line x1="2426.3" y1="44.0" x2="2426.3" y2="714.0" stroke="#c8c8c8" stroke-width="1.7" stroke-dasharray="9.5 4.5"/>
<line x1="2459.2" y1="44.0" x2="2459.2" y2="714.0" stroke="#c8c8c8" stroke-width="1.7" stroke-dasharray="9.5 4.5"/>
<line x1="2487.0" y1="44.0" x2="2487.0" y2="714.0" stroke="#c8c8c8" stroke-width="1.7" stroke-dasharray="9.5 4.5"/>
<line x1="2511.1" y1="44.0" x2="2511.1" y2="714.0" stroke="#c8c8c8" stroke-width="1.7" stroke-dasharray="9.5 4.5"/>
<line x1="2532.4" y1="44.0" x2="2532.4" y2="714.0" stroke="#c8c8c8" stroke-width="1.7" stroke-dasharray="9.5 4.5"/>
<line x1="2676.6" y1="44.0" x2="2676.6" y2="714.0" stroke="#c8c8c8" stroke-width="1.7" stroke-dasharray="9.5 4.5"/>
<line x1="2749.8" y1="44.0" x2="2749.8" y2="714.0" stroke="#c8c8c8" stroke-width="1.7" stroke-dasharray="9.5 4.5"/>
<line x1="2801.7" y1="44.0" x2="2801.7" y2="714.0" stroke="#c8c8c8" stroke-width="1.7" stroke-dasharray="9.5 4.5"/>
<line x1="2135.7" y1="44.0" x2="2135.7" y2="714.0" stroke="#cccccc" stroke-width="1.7"/>
<line x1="2551.4" y1="44.0" x2="2551.4" y2="714.0" stroke="#cccccc" stroke-width="1.7"/>
<line x1="1720.0" y1="490.7" x2="2842.0" y2="490.7" stroke="#cccccc" stroke-width="1.7"/>
<line x1="1720.0" y1="267.3" x2="2842.0" y2="267.3" stroke="#cccccc" stroke-width="1.7"/>
<rect x="1735.0" y="482.0" width="357.0" height="208.0" fill="#fff"/>
<rect x="2157.0" y="482.0" width="513.0" height="216.0" fill="#fff"/>
<rect x="2740.0" y="67.0" width="55.0" height="81.0" fill="#fff"/>
<rect x="1720.0" y="44.0" width="1122.0" height="670.0" fill="none" stroke="#474747" stroke-width="1.7" stroke-linejoin="round"/>
<path d="M1720.0,238.5 C1768.4,232.0 1963.2,213.7 2010.6,199.3 C2079.9,178.3 2102.7,125.5 2135.7,112.3 C2168.8,99.1 2188.1,118.1 2208.9,120.4 C2229.8,122.7 2245.5,125.1 2260.9,126.1 C2276.2,127.1 2288.9,126.3 2301.1,126.5 C2313.3,126.7 2319.9,124.5 2334.1,127.1 C2348.2,129.7 2370.6,137.5 2386.0,142.3 C2401.4,147.1 2414.1,152.4 2426.3,156.0 C2438.5,159.6 2449.1,160.5 2459.2,163.7 C2469.3,166.9 2478.4,171.9 2487.0,175.3 C2495.7,178.8 2503.6,181.0 2511.1,184.4 C2518.7,187.8 2525.7,191.5 2532.4,195.5 C2539.1,199.5 2541.5,200.8 2551.4,208.6 C2561.3,216.3 2579.5,232.2 2591.7,242.0 C2603.9,251.8 2610.5,253.0 2624.6,267.3 C2638.8,281.6 2661.2,310.7 2676.6,327.9 C2691.9,345.1 2704.7,355.8 2716.9,370.4 C2729.1,384.9 2735.6,395.7 2749.8,415.2 C2763.9,434.7 2786.3,466.4 2801.7,487.6 C2817.1,508.8 2835.3,533.4 2842.0,542.6" fill="none" stroke="#000000" stroke-width="3.6" stroke-linejoin="round"/>
<rect x="2003.0" y="191.7" width="15.2" height="15.2" fill="#fff" stroke="#000000" stroke-width="2.6" stroke-linejoin="round"/>
<rect x="2128.1" y="104.7" width="15.2" height="15.2" fill="#fff" stroke="#000000" stroke-width="2.6" stroke-linejoin="round"/>
<rect x="2201.3" y="112.8" width="15.2" height="15.2" fill="#fff" stroke="#000000" stroke-width="2.6" stroke-linejoin="round"/>
<rect x="2253.3" y="118.5" width="15.2" height="15.2" fill="#fff" stroke="#000000" stroke-width="2.6" stroke-linejoin="round"/>
<rect x="2293.5" y="118.9" width="15.2" height="15.2" fill="#fff" stroke="#000000" stroke-width="2.6" stroke-linejoin="round"/>
<rect x="2326.5" y="119.5" width="15.2" height="15.2" fill="#fff" stroke="#000000" stroke-width="2.6" stroke-linejoin="round"/>
<rect x="2378.4" y="134.7" width="15.2" height="15.2" fill="#fff" stroke="#000000" stroke-width="2.6" stroke-linejoin="round"/>
<rect x="2418.7" y="148.4" width="15.2" height="15.2" fill="#fff" stroke="#000000" stroke-width="2.6" stroke-linejoin="round"/>
<rect x="2451.6" y="156.1" width="15.2" height="15.2" fill="#fff" stroke="#000000" stroke-width="2.6" stroke-linejoin="round"/>
<rect x="2479.4" y="167.7" width="15.2" height="15.2" fill="#fff" stroke="#000000" stroke-width="2.6" stroke-linejoin="round"/>
<rect x="2503.5" y="176.8" width="15.2" height="15.2" fill="#fff" stroke="#000000" stroke-width="2.6" stroke-linejoin="round"/>
<rect x="2524.8" y="187.9" width="15.2" height="15.2" fill="#fff" stroke="#000000" stroke-width="2.6" stroke-linejoin="round"/>
<rect x="2543.8" y="201.0" width="15.2" height="15.2" fill="#fff" stroke="#000000" stroke-width="2.6" stroke-linejoin="round"/>
<rect x="2584.1" y="234.4" width="15.2" height="15.2" fill="#fff" stroke="#000000" stroke-width="2.6" stroke-linejoin="round"/>
<rect x="2617.0" y="259.7" width="15.2" height="15.2" fill="#fff" stroke="#000000" stroke-width="2.6" stroke-linejoin="round"/>
<rect x="2669.0" y="320.3" width="15.2" height="15.2" fill="#fff" stroke="#000000" stroke-width="2.6" stroke-linejoin="round"/>
<rect x="2709.3" y="362.8" width="15.2" height="15.2" fill="#fff" stroke="#000000" stroke-width="2.6" stroke-linejoin="round"/>
<rect x="2742.2" y="407.6" width="15.2" height="15.2" fill="#fff" stroke="#000000" stroke-width="2.6" stroke-linejoin="round"/>
<rect x="2794.1" y="480.0" width="15.2" height="15.2" fill="#fff" stroke="#000000" stroke-width="2.6" stroke-linejoin="round"/>
<rect x="2834.4" y="535.0" width="15.2" height="15.2" fill="#fff" stroke="#000000" stroke-width="2.6" stroke-linejoin="round"/>
<path d="M1720.0,241.5 C1768.4,236.8 1964.1,225.2 2010.6,213.4 C2079.9,195.8 2102.7,147.1 2135.7,135.6 C2168.8,124.1 2188.1,142.3 2208.9,144.7 C2229.8,147.1 2245.5,149.0 2260.9,149.8 C2276.2,150.7 2288.9,149.8 2301.1,149.8 C2313.3,149.8 2319.9,147.4 2334.1,149.8 C2348.2,152.2 2370.6,159.8 2386.0,164.5 C2401.4,169.2 2414.1,174.4 2426.3,177.7 C2438.5,181.0 2449.1,181.3 2459.2,184.4 C2469.3,187.5 2478.4,192.6 2487.0,196.1 C2495.7,199.6 2503.6,202.2 2511.1,205.6 C2518.7,209.0 2525.7,212.6 2532.4,216.7 C2539.1,220.8 2541.5,222.2 2551.4,229.9 C2561.3,237.7 2579.5,253.4 2591.7,263.2 C2603.9,273.0 2610.5,274.5 2624.6,288.5 C2638.8,302.5 2661.2,329.9 2676.6,347.1 C2691.9,364.3 2704.7,376.9 2716.9,391.5 C2729.1,406.1 2735.6,415.6 2749.8,435.0 C2763.9,454.4 2786.3,486.5 2801.7,507.8 C2817.1,529.1 2835.3,553.6 2842.0,562.8" fill="none" stroke="#000000" stroke-width="3.6" stroke-linejoin="round"/>
<path d="M2010.6,206.3 L2017.8,220.5 L2003.4,220.5 Z" fill="#fff" stroke="#000000" stroke-width="2.6" stroke-linejoin="round"/>
<path d="M2135.7,128.5 L2142.9,142.7 L2128.5,142.7 Z" fill="#fff" stroke="#000000" stroke-width="2.6" stroke-linejoin="round"/>
<path d="M2208.9,137.6 L2216.1,151.8 L2201.7,151.8 Z" fill="#fff" stroke="#000000" stroke-width="2.6" stroke-linejoin="round"/>
<path d="M2260.9,142.8 L2268.1,156.9 L2253.7,156.9 Z" fill="#fff" stroke="#000000" stroke-width="2.6" stroke-linejoin="round"/>
<path d="M2301.1,142.8 L2308.3,156.9 L2293.9,156.9 Z" fill="#fff" stroke="#000000" stroke-width="2.6" stroke-linejoin="round"/>
<path d="M2334.1,142.8 L2341.3,156.9 L2326.9,156.9 Z" fill="#fff" stroke="#000000" stroke-width="2.6" stroke-linejoin="round"/>
<path d="M2386.0,157.4 L2393.2,171.6 L2378.8,171.6 Z" fill="#fff" stroke="#000000" stroke-width="2.6" stroke-linejoin="round"/>
<path d="M2426.3,170.6 L2433.5,184.8 L2419.1,184.8 Z" fill="#fff" stroke="#000000" stroke-width="2.6" stroke-linejoin="round"/>
<path d="M2459.2,177.3 L2466.4,191.5 L2452.0,191.5 Z" fill="#fff" stroke="#000000" stroke-width="2.6" stroke-linejoin="round"/>
<path d="M2487.0,189.0 L2494.2,203.2 L2479.8,203.2 Z" fill="#fff" stroke="#000000" stroke-width="2.6" stroke-linejoin="round"/>
<path d="M2511.1,198.5 L2518.3,212.7 L2503.9,212.7 Z" fill="#fff" stroke="#000000" stroke-width="2.6" stroke-linejoin="round"/>
<path d="M2532.4,209.6 L2539.6,223.8 L2525.2,223.8 Z" fill="#fff" stroke="#000000" stroke-width="2.6" stroke-linejoin="round"/>
<path d="M2551.4,222.8 L2558.6,237.0 L2544.2,237.0 Z" fill="#fff" stroke="#000000" stroke-width="2.6" stroke-linejoin="round"/>
<path d="M2591.7,256.1 L2598.9,270.2 L2584.5,270.2 Z" fill="#fff" stroke="#000000" stroke-width="2.6" stroke-linejoin="round"/>
<path d="M2624.6,281.4 L2631.8,295.6 L2617.4,295.6 Z" fill="#fff" stroke="#000000" stroke-width="2.6" stroke-linejoin="round"/>
<path d="M2676.6,340.1 L2683.8,354.2 L2669.4,354.2 Z" fill="#fff" stroke="#000000" stroke-width="2.6" stroke-linejoin="round"/>
<path d="M2716.9,384.4 L2724.1,398.6 L2709.7,398.6 Z" fill="#fff" stroke="#000000" stroke-width="2.6" stroke-linejoin="round"/>
<path d="M2749.8,427.9 L2757.0,442.1 L2742.6,442.1 Z" fill="#fff" stroke="#000000" stroke-width="2.6" stroke-linejoin="round"/>
<path d="M2801.7,500.8 L2808.9,514.9 L2794.5,514.9 Z" fill="#fff" stroke="#000000" stroke-width="2.6" stroke-linejoin="round"/>
<path d="M2842.0,555.8 L2849.2,569.8 L2834.8,569.8 Z" fill="#fff" stroke="#000000" stroke-width="2.6" stroke-linejoin="round"/>
<path d="M1720.0,243.6 C1768.4,239.9 1965.8,230.5 2010.6,221.5 C2079.9,207.7 2102.7,168.4 2135.7,160.5 C2168.8,152.6 2188.1,170.7 2208.9,174.0 C2229.8,177.3 2245.5,179.0 2260.9,180.1 C2276.2,181.2 2288.9,180.3 2301.1,180.5 C2313.3,180.7 2319.9,178.4 2334.1,181.1 C2348.2,183.8 2370.6,191.7 2386.0,196.4 C2401.4,201.1 2414.1,206.1 2426.3,209.5 C2438.5,212.9 2449.1,213.6 2459.2,216.7 C2469.3,219.8 2478.4,224.2 2487.0,227.8 C2495.7,231.4 2503.6,234.4 2511.1,238.0 C2518.7,241.6 2525.7,245.2 2532.4,249.1 C2539.1,253.0 2541.5,253.6 2551.4,261.2 C2561.3,268.8 2579.5,285.0 2591.7,294.6 C2603.9,304.2 2610.5,304.8 2624.6,318.8 C2638.8,332.8 2661.2,361.8 2676.6,378.5 C2691.9,395.2 2704.7,405.3 2716.9,419.2 C2729.1,433.1 2735.6,443.0 2749.8,461.7 C2763.9,480.4 2786.3,513.2 2801.7,531.2 C2817.1,549.2 2835.3,563.5 2842.0,570.0" fill="none" stroke="#653d8a" stroke-width="3.6" stroke-linejoin="round"/>
<circle cx="2010.6" cy="221.5" r="7.6" fill="#fff" stroke="#653d8a" stroke-width="2.6"/>
<circle cx="2135.7" cy="160.5" r="7.6" fill="#fff" stroke="#653d8a" stroke-width="2.6"/>
<circle cx="2208.9" cy="174.0" r="7.6" fill="#fff" stroke="#653d8a" stroke-width="2.6"/>
<circle cx="2260.9" cy="180.1" r="7.6" fill="#fff" stroke="#653d8a" stroke-width="2.6"/>
<circle cx="2301.1" cy="180.5" r="7.6" fill="#fff" stroke="#653d8a" stroke-width="2.6"/>
<circle cx="2334.1" cy="181.1" r="7.6" fill="#fff" stroke="#653d8a" stroke-width="2.6"/>
<circle cx="2386.0" cy="196.4" r="7.6" fill="#fff" stroke="#653d8a" stroke-width="2.6"/>
<circle cx="2426.3" cy="209.5" r="7.6" fill="#fff" stroke="#653d8a" stroke-width="2.6"/>
<circle cx="2459.2" cy="216.7" r="7.6" fill="#fff" stroke="#653d8a" stroke-width="2.6"/>
<circle cx="2487.0" cy="227.8" r="7.6" fill="#fff" stroke="#653d8a" stroke-width="2.6"/>
<circle cx="2511.1" cy="238.0" r="7.6" fill="#fff" stroke="#653d8a" stroke-width="2.6"/>
<circle cx="2532.4" cy="249.1" r="7.6" fill="#fff" stroke="#653d8a" stroke-width="2.6"/>
<circle cx="2551.4" cy="261.2" r="7.6" fill="#fff" stroke="#653d8a" stroke-width="2.6"/>
<circle cx="2591.7" cy="294.6" r="7.6" fill="#fff" stroke="#653d8a" stroke-width="2.6"/>
<circle cx="2624.6" cy="318.8" r="7.6" fill="#fff" stroke="#653d8a" stroke-width="2.6"/>
<circle cx="2676.6" cy="378.5" r="7.6" fill="#fff" stroke="#653d8a" stroke-width="2.6"/>
<circle cx="2716.9" cy="419.2" r="7.6" fill="#fff" stroke="#653d8a" stroke-width="2.6"/>
<circle cx="2749.8" cy="461.7" r="7.6" fill="#fff" stroke="#653d8a" stroke-width="2.6"/>
<circle cx="2801.7" cy="531.2" r="7.6" fill="#fff" stroke="#653d8a" stroke-width="2.6"/>
<circle cx="2842.0" cy="570.0" r="7.6" fill="#fff" stroke="#653d8a" stroke-width="2.6"/>
<path d="M1720.0,246.0 C1768.4,242.8 1966.5,234.2 2010.6,226.6 C2079.9,214.6 2102.7,180.1 2135.7,174.0 C2168.8,167.9 2188.1,186.3 2208.9,190.2 C2229.8,194.1 2245.5,196.0 2260.9,197.3 C2276.2,198.7 2288.9,198.1 2301.1,198.3 C2313.3,198.5 2319.9,196.1 2334.1,198.7 C2348.2,201.3 2370.6,209.4 2386.0,214.1 C2401.4,218.8 2414.1,223.4 2426.3,226.7 C2438.5,230.0 2449.1,230.8 2459.2,233.9 C2469.3,237.0 2478.4,241.6 2487.0,245.0 C2495.7,248.4 2503.6,250.7 2511.1,254.1 C2518.7,257.5 2525.7,261.1 2532.4,265.2 C2539.1,269.2 2541.5,271.1 2551.4,278.4 C2561.3,285.6 2579.5,299.6 2591.7,308.7 C2603.9,317.8 2610.5,319.0 2624.6,333.0 C2638.8,347.0 2661.2,376.0 2676.6,392.6 C2691.9,409.2 2704.7,419.3 2716.9,432.7 C2729.1,446.1 2735.6,455.5 2749.8,473.0 C2763.9,490.5 2786.3,519.1 2801.7,537.7 C2817.1,556.3 2835.3,576.8 2842.0,584.6" fill="none" stroke="#e0262c" stroke-width="3.6" stroke-linejoin="round"/>
<rect x="2003.0" y="219.0" width="15.2" height="15.2" fill="#fff" stroke="#e0262c" stroke-width="2.6" stroke-linejoin="round"/>
<rect x="2128.1" y="166.4" width="15.2" height="15.2" fill="#fff" stroke="#e0262c" stroke-width="2.6" stroke-linejoin="round"/>
<rect x="2201.3" y="182.6" width="15.2" height="15.2" fill="#fff" stroke="#e0262c" stroke-width="2.6" stroke-linejoin="round"/>
<rect x="2253.3" y="189.7" width="15.2" height="15.2" fill="#fff" stroke="#e0262c" stroke-width="2.6" stroke-linejoin="round"/>
<rect x="2293.5" y="190.7" width="15.2" height="15.2" fill="#fff" stroke="#e0262c" stroke-width="2.6" stroke-linejoin="round"/>
<rect x="2326.5" y="191.1" width="15.2" height="15.2" fill="#fff" stroke="#e0262c" stroke-width="2.6" stroke-linejoin="round"/>
<rect x="2378.4" y="206.5" width="15.2" height="15.2" fill="#fff" stroke="#e0262c" stroke-width="2.6" stroke-linejoin="round"/>
<rect x="2418.7" y="219.1" width="15.2" height="15.2" fill="#fff" stroke="#e0262c" stroke-width="2.6" stroke-linejoin="round"/>
<rect x="2451.6" y="226.3" width="15.2" height="15.2" fill="#fff" stroke="#e0262c" stroke-width="2.6" stroke-linejoin="round"/>
<rect x="2479.4" y="237.4" width="15.2" height="15.2" fill="#fff" stroke="#e0262c" stroke-width="2.6" stroke-linejoin="round"/>
<rect x="2503.5" y="246.5" width="15.2" height="15.2" fill="#fff" stroke="#e0262c" stroke-width="2.6" stroke-linejoin="round"/>
<rect x="2524.8" y="257.6" width="15.2" height="15.2" fill="#fff" stroke="#e0262c" stroke-width="2.6" stroke-linejoin="round"/>
<rect x="2543.8" y="270.8" width="15.2" height="15.2" fill="#fff" stroke="#e0262c" stroke-width="2.6" stroke-linejoin="round"/>
<rect x="2584.1" y="301.1" width="15.2" height="15.2" fill="#fff" stroke="#e0262c" stroke-width="2.6" stroke-linejoin="round"/>
<rect x="2617.0" y="325.4" width="15.2" height="15.2" fill="#fff" stroke="#e0262c" stroke-width="2.6" stroke-linejoin="round"/>
<rect x="2669.0" y="385.0" width="15.2" height="15.2" fill="#fff" stroke="#e0262c" stroke-width="2.6" stroke-linejoin="round"/>
<rect x="2709.3" y="425.1" width="15.2" height="15.2" fill="#fff" stroke="#e0262c" stroke-width="2.6" stroke-linejoin="round"/>
<rect x="2742.2" y="465.4" width="15.2" height="15.2" fill="#fff" stroke="#e0262c" stroke-width="2.6" stroke-linejoin="round"/>
<rect x="2794.1" y="530.1" width="15.2" height="15.2" fill="#fff" stroke="#e0262c" stroke-width="2.6" stroke-linejoin="round"/>
<rect x="2834.4" y="577.0" width="15.2" height="15.2" fill="#fff" stroke="#e0262c" stroke-width="2.6" stroke-linejoin="round"/>
<path d="M1720.0,247.5 C1768.4,245.2 1967.5,239.2 2010.6,233.7 C2079.9,224.8 2102.7,197.9 2135.7,194.2 C2168.8,190.5 2188.1,207.2 2208.9,211.4 C2229.8,215.6 2245.5,218.0 2260.9,219.5 C2276.2,221.0 2288.9,220.2 2301.1,220.5 C2313.3,220.8 2319.9,218.9 2334.1,221.5 C2348.2,224.1 2370.6,231.9 2386.0,236.3 C2401.4,240.7 2414.1,245.0 2426.3,248.0 C2438.5,251.0 2449.1,251.2 2459.2,254.1 C2469.3,257.0 2478.4,262.0 2487.0,265.2 C2495.7,268.4 2503.6,270.4 2511.1,273.3 C2518.7,276.2 2525.7,278.7 2532.4,282.4 C2539.1,286.1 2541.5,288.7 2551.4,295.6 C2561.3,302.5 2579.5,315.6 2591.7,323.9 C2603.9,332.1 2610.5,332.8 2624.6,345.1 C2638.8,357.4 2661.2,382.9 2676.6,397.7 C2691.9,412.5 2704.7,421.9 2716.9,434.2 C2729.1,446.5 2735.6,455.2 2749.8,471.4 C2763.9,487.6 2786.3,514.9 2801.7,531.2 C2817.1,547.5 2835.3,562.9 2842.0,569.3" fill="none" stroke="#e0262c" stroke-width="3.6" stroke-linejoin="round"/>
<path d="M2010.6,226.6 L2017.8,240.8 L2003.4,240.8 Z" fill="#fff" stroke="#e0262c" stroke-width="2.6" stroke-linejoin="round"/>
<path d="M2135.7,187.1 L2142.9,201.2 L2128.5,201.2 Z" fill="#fff" stroke="#e0262c" stroke-width="2.6" stroke-linejoin="round"/>
<path d="M2208.9,204.3 L2216.1,218.5 L2201.7,218.5 Z" fill="#fff" stroke="#e0262c" stroke-width="2.6" stroke-linejoin="round"/>
<path d="M2260.9,212.4 L2268.1,226.6 L2253.7,226.6 Z" fill="#fff" stroke="#e0262c" stroke-width="2.6" stroke-linejoin="round"/>
<path d="M2301.1,213.4 L2308.3,227.6 L2293.9,227.6 Z" fill="#fff" stroke="#e0262c" stroke-width="2.6" stroke-linejoin="round"/>
<path d="M2334.1,214.4 L2341.3,228.6 L2326.9,228.6 Z" fill="#fff" stroke="#e0262c" stroke-width="2.6" stroke-linejoin="round"/>
<path d="M2386.0,229.2 L2393.2,243.4 L2378.8,243.4 Z" fill="#fff" stroke="#e0262c" stroke-width="2.6" stroke-linejoin="round"/>
<path d="M2426.3,240.9 L2433.5,255.1 L2419.1,255.1 Z" fill="#fff" stroke="#e0262c" stroke-width="2.6" stroke-linejoin="round"/>
<path d="M2459.2,247.0 L2466.4,261.1 L2452.0,261.1 Z" fill="#fff" stroke="#e0262c" stroke-width="2.6" stroke-linejoin="round"/>
<path d="M2487.0,258.1 L2494.2,272.2 L2479.8,272.2 Z" fill="#fff" stroke="#e0262c" stroke-width="2.6" stroke-linejoin="round"/>
<path d="M2511.1,266.2 L2518.3,280.4 L2503.9,280.4 Z" fill="#fff" stroke="#e0262c" stroke-width="2.6" stroke-linejoin="round"/>
<path d="M2532.4,275.3 L2539.6,289.4 L2525.2,289.4 Z" fill="#fff" stroke="#e0262c" stroke-width="2.6" stroke-linejoin="round"/>
<path d="M2551.4,288.6 L2558.6,302.7 L2544.2,302.7 Z" fill="#fff" stroke="#e0262c" stroke-width="2.6" stroke-linejoin="round"/>
<path d="M2591.7,316.8 L2598.9,330.9 L2584.5,330.9 Z" fill="#fff" stroke="#e0262c" stroke-width="2.6" stroke-linejoin="round"/>
<path d="M2624.6,338.1 L2631.8,352.2 L2617.4,352.2 Z" fill="#fff" stroke="#e0262c" stroke-width="2.6" stroke-linejoin="round"/>
<path d="M2676.6,390.6 L2683.8,404.8 L2669.4,404.8 Z" fill="#fff" stroke="#e0262c" stroke-width="2.6" stroke-linejoin="round"/>
<path d="M2716.9,427.1 L2724.1,441.2 L2709.7,441.2 Z" fill="#fff" stroke="#e0262c" stroke-width="2.6" stroke-linejoin="round"/>
<path d="M2749.8,464.3 L2757.0,478.4 L2742.6,478.4 Z" fill="#fff" stroke="#e0262c" stroke-width="2.6" stroke-linejoin="round"/>
<path d="M2801.7,524.2 L2808.9,538.2 L2794.5,538.2 Z" fill="#fff" stroke="#e0262c" stroke-width="2.6" stroke-linejoin="round"/>
<path d="M2842.0,562.2 L2849.2,576.3 L2834.8,576.3 Z" fill="#fff" stroke="#e0262c" stroke-width="2.6" stroke-linejoin="round"/>
<path d="M1720.0,249.0 C1768.4,247.4 1968.0,243.8 2010.6,239.7 C2079.9,233.1 2102.7,210.9 2135.7,209.4 C2168.8,207.9 2188.1,225.6 2208.9,230.6 C2229.8,235.6 2245.5,238.0 2260.9,239.7 C2276.2,241.4 2288.9,240.4 2301.1,240.7 C2313.3,241.0 2319.9,239.5 2334.1,241.7 C2348.2,243.9 2370.6,250.4 2386.0,254.0 C2401.4,257.6 2414.1,260.9 2426.3,263.1 C2438.5,265.3 2449.1,265.6 2459.2,267.3 C2469.3,269.0 2478.4,271.3 2487.0,273.3 C2495.7,275.3 2503.6,277.5 2511.1,279.4 C2518.7,281.3 2525.7,282.3 2532.4,284.5 C2539.1,286.7 2541.5,286.6 2551.4,292.5 C2561.3,298.4 2579.5,312.1 2591.7,319.8 C2603.9,327.6 2610.5,328.2 2624.6,339.0 C2638.8,349.8 2661.2,372.5 2676.6,384.5 C2691.9,396.5 2704.7,401.6 2716.9,411.2 C2729.1,420.8 2735.6,429.2 2749.8,442.3 C2763.9,455.4 2786.3,476.9 2801.7,490.0 C2817.1,503.1 2835.3,515.6 2842.0,520.7" fill="none" stroke="#e0262c" stroke-width="3.6" stroke-linejoin="round"/>
<path d="M2003.3,232.4 L2017.9,247.0 M2003.3,247.0 L2017.9,232.4" stroke="#e0262c" stroke-width="2.6" stroke-linecap="round"/>
<path d="M2128.4,202.1 L2143.0,216.7 M2128.4,216.7 L2143.0,202.1" stroke="#e0262c" stroke-width="2.6" stroke-linecap="round"/>
<path d="M2201.6,223.3 L2216.2,237.9 M2201.6,237.9 L2216.2,223.3" stroke="#e0262c" stroke-width="2.6" stroke-linecap="round"/>
<path d="M2253.6,232.4 L2268.2,247.0 M2253.6,247.0 L2268.2,232.4" stroke="#e0262c" stroke-width="2.6" stroke-linecap="round"/>
<path d="M2293.8,233.4 L2308.4,248.0 M2293.8,248.0 L2308.4,233.4" stroke="#e0262c" stroke-width="2.6" stroke-linecap="round"/>
<path d="M2326.8,234.4 L2341.4,249.0 M2326.8,249.0 L2341.4,234.4" stroke="#e0262c" stroke-width="2.6" stroke-linecap="round"/>
<path d="M2378.7,246.7 L2393.3,261.3 M2378.7,261.3 L2393.3,246.7" stroke="#e0262c" stroke-width="2.6" stroke-linecap="round"/>
<path d="M2419.0,255.8 L2433.6,270.4 M2419.0,270.4 L2433.6,255.8" stroke="#e0262c" stroke-width="2.6" stroke-linecap="round"/>
<path d="M2451.9,260.0 L2466.5,274.6 M2451.9,274.6 L2466.5,260.0" stroke="#e0262c" stroke-width="2.6" stroke-linecap="round"/>
<path d="M2479.7,266.0 L2494.3,280.6 M2479.7,280.6 L2494.3,266.0" stroke="#e0262c" stroke-width="2.6" stroke-linecap="round"/>
<path d="M2503.8,272.1 L2518.4,286.7 M2503.8,286.7 L2518.4,272.1" stroke="#e0262c" stroke-width="2.6" stroke-linecap="round"/>
<path d="M2525.1,277.2 L2539.7,291.8 M2525.1,291.8 L2539.7,277.2" stroke="#e0262c" stroke-width="2.6" stroke-linecap="round"/>
<path d="M2544.1,285.2 L2558.7,299.8 M2544.1,299.8 L2558.7,285.2" stroke="#e0262c" stroke-width="2.6" stroke-linecap="round"/>
<path d="M2584.4,312.5 L2599.0,327.1 M2584.4,327.1 L2599.0,312.5" stroke="#e0262c" stroke-width="2.6" stroke-linecap="round"/>
<path d="M2617.3,331.7 L2631.9,346.3 M2617.3,346.3 L2631.9,331.7" stroke="#e0262c" stroke-width="2.6" stroke-linecap="round"/>
<path d="M2669.3,377.2 L2683.9,391.8 M2669.3,391.8 L2683.9,377.2" stroke="#e0262c" stroke-width="2.6" stroke-linecap="round"/>
<path d="M2709.6,403.9 L2724.2,418.5 M2709.6,418.5 L2724.2,403.9" stroke="#e0262c" stroke-width="2.6" stroke-linecap="round"/>
<path d="M2742.5,435.0 L2757.1,449.6 M2742.5,449.6 L2757.1,435.0" stroke="#e0262c" stroke-width="2.6" stroke-linecap="round"/>
<path d="M2794.4,482.7 L2809.0,497.3 M2794.4,497.3 L2809.0,482.7" stroke="#e0262c" stroke-width="2.6" stroke-linecap="round"/>
<path d="M2834.7,513.4 L2849.3,528.0 M2834.7,528.0 L2849.3,513.4" stroke="#e0262c" stroke-width="2.6" stroke-linecap="round"/>
<text x="1676.4" y="730.0" font-family='"Liberation Serif", serif' font-size="52.5" font-weight="normal" font-style="normal" text-anchor="end" fill="#231f20" textLength="63.8" lengthAdjust="spacingAndGlyphs">0.1</text>
<text x="1676.4" y="506.7" font-family='"Liberation Serif", serif' font-size="52.5" font-weight="normal" font-style="normal" text-anchor="end" fill="#231f20" textLength="25.5" lengthAdjust="spacingAndGlyphs">1</text>
<text x="1676.4" y="283.3" font-family='"Liberation Serif", serif' font-size="52.5" font-weight="normal" font-style="normal" text-anchor="end" fill="#231f20" textLength="51.0" lengthAdjust="spacingAndGlyphs">10</text>
<text x="1676.4" y="60.0" font-family='"Liberation Serif", serif' font-size="52.5" font-weight="normal" font-style="normal" text-anchor="end" fill="#231f20" textLength="76.5" lengthAdjust="spacingAndGlyphs">100</text>
<text x="1718.5" y="791.1" font-family='"Liberation Serif", serif' font-size="52.5" font-weight="normal" font-style="normal" text-anchor="middle" fill="#231f20" textLength="89.2" lengthAdjust="spacingAndGlyphs">0.01</text>
<text x="2134.2" y="791.1" font-family='"Liberation Serif", serif' font-size="52.5" font-weight="normal" font-style="normal" text-anchor="middle" fill="#231f20" textLength="63.8" lengthAdjust="spacingAndGlyphs">0.1</text>
<text x="2549.9" y="791.1" font-family='"Liberation Serif", serif' font-size="52.5" font-weight="normal" font-style="normal" text-anchor="middle" fill="#231f20" textLength="25.5" lengthAdjust="spacingAndGlyphs">1</text>
<text x="2840.5" y="791.1" font-family='"Liberation Serif", serif' font-size="52.5" font-weight="normal" font-style="normal" text-anchor="middle" fill="#231f20" textLength="25.5" lengthAdjust="spacingAndGlyphs">5</text>
<text x="2055.7" y="845.0" font-family='"Liberation Serif", serif' font-size="63.0" font-weight="bold" font-style="normal" text-anchor="start" fill="#231f20" textLength="494.3" lengthAdjust="spacingAndGlyphs">Spectral period (s)</text>
<text transform="translate(1526.5,616.2) rotate(-90)" font-family='"Liberation Serif", serif' font-size="62" font-weight="bold" fill="#231f20" textLength="455" lengthAdjust="spacingAndGlyphs">Acc. spectra (gal)</text>
<text x="1453.9" y="54.8" font-family='"Liberation Sans", sans-serif' font-size="67.0" font-weight="normal" font-style="normal" text-anchor="start" fill="#231f20" >(b)</text>
<text x="2744.0" y="135.0" font-family='"Liberation Serif", serif' font-size="75.5" font-weight="normal" font-style="normal" text-anchor="start" fill="#231f20" style="fill:#000" textLength="54.5" lengthAdjust="spacingAndGlyphs">V</text>
<text x="1733.8" y="537.2" font-family='"Liberation Serif", serif' font-size="57.0" font-weight="normal" font-style="italic" text-anchor="start" fill="#231f20" textLength="52.7" lengthAdjust="spacingAndGlyphs">M</text>
<text x="1785.8" y="547.2" font-family='"Liberation Serif", serif' font-size="33.0" font-weight="normal" font-style="normal" text-anchor="start" fill="#231f20" textLength="28.8" lengthAdjust="spacingAndGlyphs">W</text>
<text x="1832.4" y="537.2" font-family='"Liberation Serif", serif' font-size="57.0" font-weight="normal" font-style="normal" text-anchor="start" fill="#231f20" textLength="32.5" lengthAdjust="spacingAndGlyphs">=</text>
<text x="1880.4" y="537.2" font-family='"Liberation Serif", serif' font-size="57.0" font-weight="normal" font-style="normal" text-anchor="start" fill="#231f20" >5.0</text>
<text x="1735.3" y="602.8" font-family='"Liberation Serif", serif' font-size="57.0" font-weight="normal" font-style="normal" text-anchor="start" fill="#231f20" >Depth = 10 km</text>
<text x="1735.3" y="668.4" font-family='"Liberation Serif", serif' font-size="57.0" font-weight="normal" font-style="normal" text-anchor="start" fill="#231f20" >Dist. = 30 km</text>
<line x1="2185.8" y1="520.3" x2="2285.2" y2="520.3" stroke="#000000" stroke-width="3.6" stroke-linecap="round"/>
<rect x="2227.3" y="513.1" width="14.4" height="14.4" fill="#fff" stroke="#000000" stroke-width="2.6" stroke-linejoin="round"/>
<text x="2295.5" y="536.9" font-family='"Liberation Serif", serif' font-size="52.5" font-weight="normal" font-style="normal" text-anchor="start" fill="#231f20" textLength="68.0" lengthAdjust="spacingAndGlyphs">1%</text>
<line x1="2442.0" y1="520.3" x2="2541.4" y2="520.3" stroke="#000000" stroke-width="3.6" stroke-linecap="round"/>
<path d="M2490.7,513.6 L2497.5,527.0 L2483.9,527.0 Z" fill="#fff" stroke="#000000" stroke-width="2.6" stroke-linejoin="round"/>
<text x="2551.7" y="536.9" font-family='"Liberation Serif", serif' font-size="52.5" font-weight="normal" font-style="normal" text-anchor="start" fill="#231f20" textLength="68.0" lengthAdjust="spacingAndGlyphs">2%</text>
<line x1="2185.8" y1="591.3" x2="2285.2" y2="591.3" stroke="#653d8a" stroke-width="3.6" stroke-linecap="round"/>
<circle cx="2234.5" cy="591.3" r="7.2" fill="#fff" stroke="#653d8a" stroke-width="2.6"/>
<text x="2295.5" y="607.9" font-family='"Liberation Serif", serif' font-size="52.5" font-weight="normal" font-style="normal" text-anchor="start" fill="#231f20" textLength="68.0" lengthAdjust="spacingAndGlyphs">5%</text>
<line x1="2442.0" y1="591.3" x2="2541.4" y2="591.3" stroke="#e0262c" stroke-width="3.6" stroke-linecap="round"/>
<rect x="2483.5" y="584.1" width="14.4" height="14.4" fill="#fff" stroke="#e0262c" stroke-width="2.6" stroke-linejoin="round"/>
<text x="2551.7" y="607.9" font-family='"Liberation Serif", serif' font-size="52.5" font-weight="normal" font-style="normal" text-anchor="start" fill="#231f20" textLength="68.0" lengthAdjust="spacingAndGlyphs">8%</text>
<line x1="2185.8" y1="662.3" x2="2285.2" y2="662.3" stroke="#e0262c" stroke-width="3.6" stroke-linecap="round"/>
<path d="M2234.5,655.6 L2241.3,669.0 L2227.7,669.0 Z" fill="#fff" stroke="#e0262c" stroke-width="2.6" stroke-linejoin="round"/>
<text x="2295.5" y="678.9" font-family='"Liberation Serif", serif' font-size="52.5" font-weight="normal" font-style="normal" text-anchor="start" fill="#231f20" textLength="93.5" lengthAdjust="spacingAndGlyphs">15%</text>
<line x1="2442.0" y1="662.3" x2="2541.4" y2="662.3" stroke="#e0262c" stroke-width="3.6" stroke-linecap="round"/>
<path d="M2483.8,655.4 L2497.6,669.2 M2483.8,669.2 L2497.6,655.4" stroke="#e0262c" stroke-width="2.6" stroke-linecap="round"/>
<text x="2551.7" y="678.9" font-family='"Liberation Serif", serif' font-size="52.5" font-weight="normal" font-style="normal" text-anchor="start" fill="#231f20" textLength="93.5" lengthAdjust="spacingAndGlyphs">30%</text>
</g>
<g>
<line x1="391.1" y1="884.5" x2="391.1" y2="1553.5" stroke="#c8c8c8" stroke-width="1.7" stroke-dasharray="9.5 4.5"/>
<line x1="464.6" y1="884.5" x2="464.6" y2="1553.5" stroke="#c8c8c8" stroke-width="1.7" stroke-dasharray="9.5 4.5"/>
<line x1="516.8" y1="884.5" x2="516.8" y2="1553.5" stroke="#c8c8c8" stroke-width="1.7" stroke-dasharray="9.5 4.5"/>
<line x1="557.2" y1="884.5" x2="557.2" y2="1553.5" stroke="#c8c8c8" stroke-width="1.7" stroke-dasharray="9.5 4.5"/>
<line x1="590.3" y1="884.5" x2="590.3" y2="1553.5" stroke="#c8c8c8" stroke-width="1.7" stroke-dasharray="9.5 4.5"/>
<line x1="618.2" y1="884.5" x2="618.2" y2="1553.5" stroke="#c8c8c8" stroke-width="1.7" stroke-dasharray="9.5 4.5"/>
<line x1="642.4" y1="884.5" x2="642.4" y2="1553.5" stroke="#c8c8c8" stroke-width="1.7" stroke-dasharray="9.5 4.5"/>
<line x1="663.8" y1="884.5" x2="663.8" y2="1553.5" stroke="#c8c8c8" stroke-width="1.7" stroke-dasharray="9.5 4.5"/>
<line x1="808.5" y1="884.5" x2="808.5" y2="1553.5" stroke="#c8c8c8" stroke-width="1.7" stroke-dasharray="9.5 4.5"/>
<line x1="882.0" y1="884.5" x2="882.0" y2="1553.5" stroke="#c8c8c8" stroke-width="1.7" stroke-dasharray="9.5 4.5"/>
<line x1="934.2" y1="884.5" x2="934.2" y2="1553.5" stroke="#c8c8c8" stroke-width="1.7" stroke-dasharray="9.5 4.5"/>
<line x1="974.6" y1="884.5" x2="974.6" y2="1553.5" stroke="#c8c8c8" stroke-width="1.7" stroke-dasharray="9.5 4.5"/>
<line x1="1007.7" y1="884.5" x2="1007.7" y2="1553.5" stroke="#c8c8c8" stroke-width="1.7" stroke-dasharray="9.5 4.5"/>
<line x1="1035.6" y1="884.5" x2="1035.6" y2="1553.5" stroke="#c8c8c8" stroke-width="1.7" stroke-dasharray="9.5 4.5"/>
<line x1="1059.8" y1="884.5" x2="1059.8" y2="1553.5" stroke="#c8c8c8" stroke-width="1.7" stroke-dasharray="9.5 4.5"/>
<line x1="1081.2" y1="884.5" x2="1081.2" y2="1553.5" stroke="#c8c8c8" stroke-width="1.7" stroke-dasharray="9.5 4.5"/>
<line x1="1225.9" y1="884.5" x2="1225.9" y2="1553.5" stroke="#c8c8c8" stroke-width="1.7" stroke-dasharray="9.5 4.5"/>
<line x1="1299.4" y1="884.5" x2="1299.4" y2="1553.5" stroke="#c8c8c8" stroke-width="1.7" stroke-dasharray="9.5 4.5"/>
<line x1="1351.6" y1="884.5" x2="1351.6" y2="1553.5" stroke="#c8c8c8" stroke-width="1.7" stroke-dasharray="9.5 4.5"/>
<line x1="682.9" y1="884.5" x2="682.9" y2="1553.5" stroke="#cccccc" stroke-width="1.7"/>
<line x1="1100.3" y1="884.5" x2="1100.3" y2="1553.5" stroke="#cccccc" stroke-width="1.7"/>
<line x1="265.5" y1="1386.2" x2="1392.0" y2="1386.2" stroke="#cccccc" stroke-width="1.7"/>
<line x1="265.5" y1="1219.0" x2="1392.0" y2="1219.0" stroke="#cccccc" stroke-width="1.7"/>
<line x1="265.5" y1="1051.8" x2="1392.0" y2="1051.8" stroke="#cccccc" stroke-width="1.7"/>
<rect x="290.0" y="1327.0" width="360.0" height="206.6" fill="#fff"/>
<rect x="673.0" y="1327.0" width="511.0" height="206.6" fill="#fff"/>
<rect x="1285.0" y="906.0" width="60.0" height="79.0" fill="#fff"/>
<rect x="265.5" y="884.5" width="1126.5" height="669.0" fill="none" stroke="#474747" stroke-width="1.7" stroke-linejoin="round"/>
<path d="M265.5,1150.5 C314.1,1149.7 511.1,1153.9 557.2,1145.5 C626.8,1132.8 649.7,1091.1 682.9,1074.0 C716.1,1056.9 735.4,1048.4 756.4,1042.7 C777.3,1037.0 793.1,1039.9 808.5,1039.6 C824.0,1039.3 836.7,1040.3 849.0,1040.7 C861.2,1041.1 867.8,1042.2 882.0,1041.7 C896.2,1041.2 918.7,1037.5 934.2,1038.0 C949.6,1038.5 962.4,1041.5 974.6,1044.6 C986.9,1047.7 997.5,1052.4 1007.7,1056.6 C1017.8,1060.8 1026.9,1066.1 1035.6,1069.8 C1044.3,1073.5 1052.2,1076.1 1059.8,1078.9 C1067.4,1081.8 1074.4,1084.2 1081.2,1086.9 C1087.9,1089.6 1090.3,1090.1 1100.3,1095.0 C1110.2,1099.9 1128.5,1109.7 1140.7,1116.3 C1153.0,1122.9 1159.6,1125.1 1173.8,1134.5 C1188.0,1143.9 1210.5,1161.0 1225.9,1172.9 C1241.3,1184.9 1254.1,1194.5 1266.4,1206.2 C1278.6,1217.9 1285.2,1227.2 1299.4,1243.2 C1313.6,1259.2 1336.1,1282.9 1351.6,1302.4 C1367.0,1321.9 1385.3,1350.7 1392.0,1360.4" fill="none" stroke="#000000" stroke-width="3.6" stroke-linejoin="round"/>
<rect x="549.6" y="1137.9" width="15.2" height="15.2" fill="#fff" stroke="#000000" stroke-width="2.6" stroke-linejoin="round"/>
<rect x="675.3" y="1066.4" width="15.2" height="15.2" fill="#fff" stroke="#000000" stroke-width="2.6" stroke-linejoin="round"/>
<rect x="748.8" y="1035.1" width="15.2" height="15.2" fill="#fff" stroke="#000000" stroke-width="2.6" stroke-linejoin="round"/>
<rect x="800.9" y="1032.0" width="15.2" height="15.2" fill="#fff" stroke="#000000" stroke-width="2.6" stroke-linejoin="round"/>
<rect x="841.4" y="1033.1" width="15.2" height="15.2" fill="#fff" stroke="#000000" stroke-width="2.6" stroke-linejoin="round"/>
<rect x="874.4" y="1034.1" width="15.2" height="15.2" fill="#fff" stroke="#000000" stroke-width="2.6" stroke-linejoin="round"/>
<rect x="926.6" y="1030.4" width="15.2" height="15.2" fill="#fff" stroke="#000000" stroke-width="2.6" stroke-linejoin="round"/>
<rect x="967.0" y="1037.0" width="15.2" height="15.2" fill="#fff" stroke="#000000" stroke-width="2.6" stroke-linejoin="round"/>
<rect x="1000.1" y="1049.0" width="15.2" height="15.2" fill="#fff" stroke="#000000" stroke-width="2.6" stroke-linejoin="round"/>
<rect x="1028.0" y="1062.2" width="15.2" height="15.2" fill="#fff" stroke="#000000" stroke-width="2.6" stroke-linejoin="round"/>
<rect x="1052.2" y="1071.3" width="15.2" height="15.2" fill="#fff" stroke="#000000" stroke-width="2.6" stroke-linejoin="round"/>
<rect x="1073.6" y="1079.3" width="15.2" height="15.2" fill="#fff" stroke="#000000" stroke-width="2.6" stroke-linejoin="round"/>
<rect x="1092.7" y="1087.4" width="15.2" height="15.2" fill="#fff" stroke="#000000" stroke-width="2.6" stroke-linejoin="round"/>
<rect x="1133.1" y="1108.7" width="15.2" height="15.2" fill="#fff" stroke="#000000" stroke-width="2.6" stroke-linejoin="round"/>
<rect x="1166.2" y="1126.9" width="15.2" height="15.2" fill="#fff" stroke="#000000" stroke-width="2.6" stroke-linejoin="round"/>
<rect x="1218.3" y="1165.3" width="15.2" height="15.2" fill="#fff" stroke="#000000" stroke-width="2.6" stroke-linejoin="round"/>
<rect x="1258.8" y="1198.6" width="15.2" height="15.2" fill="#fff" stroke="#000000" stroke-width="2.6" stroke-linejoin="round"/>
<rect x="1291.8" y="1235.6" width="15.2" height="15.2" fill="#fff" stroke="#000000" stroke-width="2.6" stroke-linejoin="round"/>
<rect x="1344.0" y="1294.8" width="15.2" height="15.2" fill="#fff" stroke="#000000" stroke-width="2.6" stroke-linejoin="round"/>
<rect x="1384.4" y="1352.8" width="15.2" height="15.2" fill="#fff" stroke="#000000" stroke-width="2.6" stroke-linejoin="round"/>
<path d="M265.5,1150.5 C314.1,1149.8 512.3,1153.4 557.2,1146.5 C626.8,1135.8 649.7,1100.9 682.9,1086.1 C716.1,1071.3 735.4,1063.2 756.4,1057.8 C777.3,1052.4 793.1,1054.1 808.5,1053.8 C824.0,1053.5 836.7,1055.4 849.0,1055.8 C861.2,1056.2 867.8,1056.8 882.0,1056.4 C896.2,1056.0 918.7,1052.7 934.2,1053.2 C949.6,1053.8 962.4,1056.6 974.6,1059.7 C986.9,1062.8 997.5,1067.6 1007.7,1071.8 C1017.8,1076.0 1026.9,1081.0 1035.6,1084.9 C1044.3,1088.8 1052.2,1092.1 1059.8,1095.0 C1067.4,1097.9 1074.4,1099.6 1081.2,1102.1 C1087.9,1104.6 1090.3,1105.7 1100.3,1110.2 C1110.2,1114.8 1128.5,1123.0 1140.7,1129.4 C1153.0,1135.8 1159.6,1139.7 1173.8,1148.6 C1188.0,1157.5 1210.5,1171.7 1225.9,1183.0 C1241.3,1194.3 1254.1,1205.0 1266.4,1216.3 C1278.6,1227.6 1285.2,1235.8 1299.4,1250.8 C1313.6,1265.8 1336.1,1288.0 1351.6,1306.5 C1367.0,1325.0 1385.3,1352.5 1392.0,1361.7" fill="none" stroke="#000000" stroke-width="3.6" stroke-linejoin="round"/>
<path d="M557.2,1139.5 L564.4,1153.5 L550.0,1153.5 Z" fill="#fff" stroke="#000000" stroke-width="2.6" stroke-linejoin="round"/>
<path d="M682.9,1079.0 L690.1,1093.1 L675.7,1093.1 Z" fill="#fff" stroke="#000000" stroke-width="2.6" stroke-linejoin="round"/>
<path d="M756.4,1050.8 L763.6,1064.8 L749.2,1064.8 Z" fill="#fff" stroke="#000000" stroke-width="2.6" stroke-linejoin="round"/>
<path d="M808.5,1046.8 L815.7,1060.8 L801.3,1060.8 Z" fill="#fff" stroke="#000000" stroke-width="2.6" stroke-linejoin="round"/>
<path d="M849.0,1048.8 L856.2,1062.8 L841.8,1062.8 Z" fill="#fff" stroke="#000000" stroke-width="2.6" stroke-linejoin="round"/>
<path d="M882.0,1049.4 L889.2,1063.5 L874.8,1063.5 Z" fill="#fff" stroke="#000000" stroke-width="2.6" stroke-linejoin="round"/>
<path d="M934.2,1046.2 L941.4,1060.2 L927.0,1060.2 Z" fill="#fff" stroke="#000000" stroke-width="2.6" stroke-linejoin="round"/>
<path d="M974.6,1052.7 L981.8,1066.8 L967.4,1066.8 Z" fill="#fff" stroke="#000000" stroke-width="2.6" stroke-linejoin="round"/>
<path d="M1007.7,1064.8 L1014.9,1078.8 L1000.5,1078.8 Z" fill="#fff" stroke="#000000" stroke-width="2.6" stroke-linejoin="round"/>
<path d="M1035.6,1077.9 L1042.8,1092.0 L1028.4,1092.0 Z" fill="#fff" stroke="#000000" stroke-width="2.6" stroke-linejoin="round"/>
<path d="M1059.8,1088.0 L1067.0,1102.0 L1052.6,1102.0 Z" fill="#fff" stroke="#000000" stroke-width="2.6" stroke-linejoin="round"/>
<path d="M1081.2,1095.0 L1088.4,1109.1 L1074.0,1109.1 Z" fill="#fff" stroke="#000000" stroke-width="2.6" stroke-linejoin="round"/>
<path d="M1100.3,1103.2 L1107.5,1117.2 L1093.1,1117.2 Z" fill="#fff" stroke="#000000" stroke-width="2.6" stroke-linejoin="round"/>
<path d="M1140.7,1122.4 L1147.9,1136.5 L1133.5,1136.5 Z" fill="#fff" stroke="#000000" stroke-width="2.6" stroke-linejoin="round"/>
<path d="M1173.8,1141.5 L1181.0,1155.6 L1166.6,1155.6 Z" fill="#fff" stroke="#000000" stroke-width="2.6" stroke-linejoin="round"/>
<path d="M1225.9,1176.0 L1233.1,1190.0 L1218.7,1190.0 Z" fill="#fff" stroke="#000000" stroke-width="2.6" stroke-linejoin="round"/>
<path d="M1266.4,1209.2 L1273.6,1223.3 L1259.2,1223.3 Z" fill="#fff" stroke="#000000" stroke-width="2.6" stroke-linejoin="round"/>
<path d="M1299.4,1243.8 L1306.6,1257.8 L1292.2,1257.8 Z" fill="#fff" stroke="#000000" stroke-width="2.6" stroke-linejoin="round"/>
<path d="M1351.6,1299.5 L1358.8,1313.5 L1344.4,1313.5 Z" fill="#fff" stroke="#000000" stroke-width="2.6" stroke-linejoin="round"/>
<path d="M1392.0,1354.7 L1399.2,1368.8 L1384.8,1368.8 Z" fill="#fff" stroke="#000000" stroke-width="2.6" stroke-linejoin="round"/>
<path d="M265.5,1150.5 C314.1,1149.9 513.4,1152.3 557.2,1147.0 C626.8,1138.6 649.7,1112.1 682.9,1100.3 C716.1,1088.5 735.4,1080.2 756.4,1076.0 C777.3,1071.8 793.1,1074.8 808.5,1075.0 C824.0,1075.2 836.7,1076.5 849.0,1077.0 C861.2,1077.5 867.8,1078.6 882.0,1078.1 C896.2,1077.6 918.7,1073.6 934.2,1073.9 C949.6,1074.2 962.4,1077.0 974.6,1080.0 C986.9,1083.0 997.5,1088.0 1007.7,1092.0 C1017.8,1096.0 1026.9,1100.4 1035.6,1104.1 C1044.3,1107.8 1052.2,1111.3 1059.8,1114.2 C1067.4,1117.1 1074.4,1118.9 1081.2,1121.3 C1087.9,1123.7 1090.3,1124.0 1100.3,1128.4 C1110.2,1132.8 1128.5,1141.7 1140.7,1147.6 C1153.0,1153.5 1159.6,1155.7 1173.8,1163.8 C1188.0,1171.9 1210.5,1185.1 1225.9,1196.1 C1241.3,1207.0 1254.1,1218.5 1266.4,1229.5 C1278.6,1240.5 1285.2,1249.2 1299.4,1262.0 C1313.6,1274.8 1336.1,1291.5 1351.6,1306.5 C1367.0,1321.5 1385.3,1344.7 1392.0,1352.3" fill="none" stroke="#653d8a" stroke-width="3.6" stroke-linejoin="round"/>
<circle cx="557.2" cy="1147.0" r="7.6" fill="#fff" stroke="#653d8a" stroke-width="2.6"/>
<circle cx="682.9" cy="1100.3" r="7.6" fill="#fff" stroke="#653d8a" stroke-width="2.6"/>
<circle cx="756.4" cy="1076.0" r="7.6" fill="#fff" stroke="#653d8a" stroke-width="2.6"/>
<circle cx="808.5" cy="1075.0" r="7.6" fill="#fff" stroke="#653d8a" stroke-width="2.6"/>
<circle cx="849.0" cy="1077.0" r="7.6" fill="#fff" stroke="#653d8a" stroke-width="2.6"/>
<circle cx="882.0" cy="1078.1" r="7.6" fill="#fff" stroke="#653d8a" stroke-width="2.6"/>
<circle cx="934.2" cy="1073.9" r="7.6" fill="#fff" stroke="#653d8a" stroke-width="2.6"/>
<circle cx="974.6" cy="1080.0" r="7.6" fill="#fff" stroke="#653d8a" stroke-width="2.6"/>
<circle cx="1007.7" cy="1092.0" r="7.6" fill="#fff" stroke="#653d8a" stroke-width="2.6"/>
<circle cx="1035.6" cy="1104.1" r="7.6" fill="#fff" stroke="#653d8a" stroke-width="2.6"/>
<circle cx="1059.8" cy="1114.2" r="7.6" fill="#fff" stroke="#653d8a" stroke-width="2.6"/>
<circle cx="1081.2" cy="1121.3" r="7.6" fill="#fff" stroke="#653d8a" stroke-width="2.6"/>
<circle cx="1100.3" cy="1128.4" r="7.6" fill="#fff" stroke="#653d8a" stroke-width="2.6"/>
<circle cx="1140.7" cy="1147.6" r="7.6" fill="#fff" stroke="#653d8a" stroke-width="2.6"/>
<circle cx="1173.8" cy="1163.8" r="7.6" fill="#fff" stroke="#653d8a" stroke-width="2.6"/>
<circle cx="1225.9" cy="1196.1" r="7.6" fill="#fff" stroke="#653d8a" stroke-width="2.6"/>
<circle cx="1266.4" cy="1229.5" r="7.6" fill="#fff" stroke="#653d8a" stroke-width="2.6"/>
<circle cx="1299.4" cy="1262.0" r="7.6" fill="#fff" stroke="#653d8a" stroke-width="2.6"/>
<circle cx="1351.6" cy="1306.5" r="7.6" fill="#fff" stroke="#653d8a" stroke-width="2.6"/>
<circle cx="1392.0" cy="1352.3" r="7.6" fill="#fff" stroke="#653d8a" stroke-width="2.6"/>
<path d="M265.5,1150.5 C314.1,1150.0 514.2,1151.5 557.2,1147.5 C626.8,1141.0 649.7,1121.0 682.9,1111.4 C716.1,1101.9 735.4,1093.9 756.4,1090.2 C777.3,1086.5 793.1,1089.0 808.5,1089.2 C824.0,1089.4 836.7,1090.7 849.0,1091.2 C861.2,1091.7 867.8,1092.8 882.0,1092.2 C896.2,1091.6 918.7,1087.4 934.2,1087.6 C949.6,1087.8 962.4,1090.3 974.6,1093.1 C986.9,1095.8 997.5,1100.2 1007.7,1104.1 C1017.8,1108.0 1026.9,1112.8 1035.6,1116.3 C1044.3,1119.8 1052.2,1122.7 1059.8,1125.4 C1067.4,1128.1 1074.4,1130.4 1081.2,1132.4 C1087.9,1134.4 1090.3,1133.6 1100.3,1137.5 C1110.2,1141.4 1128.5,1149.6 1140.7,1155.7 C1153.0,1161.8 1159.6,1165.3 1173.8,1173.9 C1188.0,1182.5 1210.5,1197.1 1225.9,1207.2 C1241.3,1217.3 1254.1,1225.2 1266.4,1234.5 C1278.6,1243.8 1285.2,1251.7 1299.4,1262.7 C1313.6,1273.7 1336.1,1287.9 1351.6,1300.4 C1367.0,1312.9 1385.3,1331.3 1392.0,1337.5" fill="none" stroke="#e0262c" stroke-width="3.6" stroke-linejoin="round"/>
<rect x="549.6" y="1139.9" width="15.2" height="15.2" fill="#fff" stroke="#e0262c" stroke-width="2.6" stroke-linejoin="round"/>
<rect x="675.3" y="1103.8" width="15.2" height="15.2" fill="#fff" stroke="#e0262c" stroke-width="2.6" stroke-linejoin="round"/>
<rect x="748.8" y="1082.6" width="15.2" height="15.2" fill="#fff" stroke="#e0262c" stroke-width="2.6" stroke-linejoin="round"/>
<rect x="800.9" y="1081.6" width="15.2" height="15.2" fill="#fff" stroke="#e0262c" stroke-width="2.6" stroke-linejoin="round"/>
<rect x="841.4" y="1083.6" width="15.2" height="15.2" fill="#fff" stroke="#e0262c" stroke-width="2.6" stroke-linejoin="round"/>
<rect x="874.4" y="1084.6" width="15.2" height="15.2" fill="#fff" stroke="#e0262c" stroke-width="2.6" stroke-linejoin="round"/>
<rect x="926.6" y="1080.0" width="15.2" height="15.2" fill="#fff" stroke="#e0262c" stroke-width="2.6" stroke-linejoin="round"/>
<rect x="967.0" y="1085.5" width="15.2" height="15.2" fill="#fff" stroke="#e0262c" stroke-width="2.6" stroke-linejoin="round"/>
<rect x="1000.1" y="1096.5" width="15.2" height="15.2" fill="#fff" stroke="#e0262c" stroke-width="2.6" stroke-linejoin="round"/>
<rect x="1028.0" y="1108.7" width="15.2" height="15.2" fill="#fff" stroke="#e0262c" stroke-width="2.6" stroke-linejoin="round"/>
<rect x="1052.2" y="1117.8" width="15.2" height="15.2" fill="#fff" stroke="#e0262c" stroke-width="2.6" stroke-linejoin="round"/>
<rect x="1073.6" y="1124.8" width="15.2" height="15.2" fill="#fff" stroke="#e0262c" stroke-width="2.6" stroke-linejoin="round"/>
<rect x="1092.7" y="1129.9" width="15.2" height="15.2" fill="#fff" stroke="#e0262c" stroke-width="2.6" stroke-linejoin="round"/>
<rect x="1133.1" y="1148.1" width="15.2" height="15.2" fill="#fff" stroke="#e0262c" stroke-width="2.6" stroke-linejoin="round"/>
<rect x="1166.2" y="1166.3" width="15.2" height="15.2" fill="#fff" stroke="#e0262c" stroke-width="2.6" stroke-linejoin="round"/>
<rect x="1218.3" y="1199.6" width="15.2" height="15.2" fill="#fff" stroke="#e0262c" stroke-width="2.6" stroke-linejoin="round"/>
<rect x="1258.8" y="1226.9" width="15.2" height="15.2" fill="#fff" stroke="#e0262c" stroke-width="2.6" stroke-linejoin="round"/>
<rect x="1291.8" y="1255.1" width="15.2" height="15.2" fill="#fff" stroke="#e0262c" stroke-width="2.6" stroke-linejoin="round"/>
<rect x="1344.0" y="1292.8" width="15.2" height="15.2" fill="#fff" stroke="#e0262c" stroke-width="2.6" stroke-linejoin="round"/>
<rect x="1384.4" y="1329.9" width="15.2" height="15.2" fill="#fff" stroke="#e0262c" stroke-width="2.6" stroke-linejoin="round"/>
<path d="M265.5,1150.5 C314.1,1150.1 514.9,1150.5 557.2,1148.0 C626.8,1143.8 649.7,1132.2 682.9,1125.6 C716.1,1119.0 735.4,1111.4 756.4,1108.4 C777.3,1105.4 793.1,1107.1 808.5,1107.4 C824.0,1107.7 836.7,1109.7 849.0,1110.4 C861.2,1111.1 867.8,1111.9 882.0,1111.4 C896.2,1110.9 918.7,1107.3 934.2,1107.3 C949.6,1107.3 962.4,1109.3 974.6,1111.3 C986.9,1113.3 997.5,1115.9 1007.7,1119.3 C1017.8,1122.7 1026.9,1128.2 1035.6,1131.4 C1044.3,1134.6 1052.2,1136.7 1059.8,1138.5 C1067.4,1140.3 1074.4,1140.5 1081.2,1142.5 C1087.9,1144.5 1090.3,1147.2 1100.3,1150.6 C1110.2,1154.0 1128.5,1158.8 1140.7,1162.8 C1153.0,1166.8 1159.6,1167.8 1173.8,1174.9 C1188.0,1182.0 1210.5,1196.3 1225.9,1205.2 C1241.3,1214.1 1254.1,1220.6 1266.4,1228.5 C1278.6,1236.4 1285.2,1243.2 1299.4,1252.8 C1313.6,1262.4 1336.1,1275.8 1351.6,1286.2 C1367.0,1296.6 1385.3,1310.4 1392.0,1315.2" fill="none" stroke="#e0262c" stroke-width="3.6" stroke-linejoin="round"/>
<path d="M557.2,1141.0 L564.4,1155.0 L550.0,1155.0 Z" fill="#fff" stroke="#e0262c" stroke-width="2.6" stroke-linejoin="round"/>
<path d="M682.9,1118.5 L690.1,1132.6 L675.7,1132.6 Z" fill="#fff" stroke="#e0262c" stroke-width="2.6" stroke-linejoin="round"/>
<path d="M756.4,1101.4 L763.6,1115.5 L749.2,1115.5 Z" fill="#fff" stroke="#e0262c" stroke-width="2.6" stroke-linejoin="round"/>
<path d="M808.5,1100.4 L815.7,1114.5 L801.3,1114.5 Z" fill="#fff" stroke="#e0262c" stroke-width="2.6" stroke-linejoin="round"/>
<path d="M849.0,1103.4 L856.2,1117.5 L841.8,1117.5 Z" fill="#fff" stroke="#e0262c" stroke-width="2.6" stroke-linejoin="round"/>
<path d="M882.0,1104.4 L889.2,1118.5 L874.8,1118.5 Z" fill="#fff" stroke="#e0262c" stroke-width="2.6" stroke-linejoin="round"/>
<path d="M934.2,1100.2 L941.4,1114.3 L927.0,1114.3 Z" fill="#fff" stroke="#e0262c" stroke-width="2.6" stroke-linejoin="round"/>
<path d="M974.6,1104.2 L981.8,1118.3 L967.4,1118.3 Z" fill="#fff" stroke="#e0262c" stroke-width="2.6" stroke-linejoin="round"/>
<path d="M1007.7,1112.2 L1014.9,1126.3 L1000.5,1126.3 Z" fill="#fff" stroke="#e0262c" stroke-width="2.6" stroke-linejoin="round"/>
<path d="M1035.6,1124.4 L1042.8,1138.5 L1028.4,1138.5 Z" fill="#fff" stroke="#e0262c" stroke-width="2.6" stroke-linejoin="round"/>
<path d="M1059.8,1131.5 L1067.0,1145.5 L1052.6,1145.5 Z" fill="#fff" stroke="#e0262c" stroke-width="2.6" stroke-linejoin="round"/>
<path d="M1081.2,1135.5 L1088.4,1149.5 L1074.0,1149.5 Z" fill="#fff" stroke="#e0262c" stroke-width="2.6" stroke-linejoin="round"/>
<path d="M1100.3,1143.5 L1107.5,1157.6 L1093.1,1157.6 Z" fill="#fff" stroke="#e0262c" stroke-width="2.6" stroke-linejoin="round"/>
<path d="M1140.7,1155.8 L1147.9,1169.8 L1133.5,1169.8 Z" fill="#fff" stroke="#e0262c" stroke-width="2.6" stroke-linejoin="round"/>
<path d="M1173.8,1167.9 L1181.0,1182.0 L1166.6,1182.0 Z" fill="#fff" stroke="#e0262c" stroke-width="2.6" stroke-linejoin="round"/>
<path d="M1225.9,1198.2 L1233.1,1212.2 L1218.7,1212.2 Z" fill="#fff" stroke="#e0262c" stroke-width="2.6" stroke-linejoin="round"/>
<path d="M1266.4,1221.5 L1273.6,1235.5 L1259.2,1235.5 Z" fill="#fff" stroke="#e0262c" stroke-width="2.6" stroke-linejoin="round"/>
<path d="M1299.4,1245.8 L1306.6,1259.8 L1292.2,1259.8 Z" fill="#fff" stroke="#e0262c" stroke-width="2.6" stroke-linejoin="round"/>
<path d="M1351.6,1279.2 L1358.8,1293.2 L1344.4,1293.2 Z" fill="#fff" stroke="#e0262c" stroke-width="2.6" stroke-linejoin="round"/>
<path d="M1392.0,1308.2 L1399.2,1322.2 L1384.8,1322.2 Z" fill="#fff" stroke="#e0262c" stroke-width="2.6" stroke-linejoin="round"/>
<path d="M265.5,1150.5 C314.1,1150.2 515.2,1150.1 557.2,1148.8 C626.8,1146.7 649.7,1141.6 682.9,1137.7 C716.1,1133.8 735.4,1127.4 756.4,1125.6 C777.3,1123.8 793.1,1126.1 808.5,1126.6 C824.0,1127.1 836.7,1128.3 849.0,1128.6 C861.2,1128.9 867.8,1129.9 882.0,1128.6 C896.2,1127.3 918.7,1122.0 934.2,1120.9 C949.6,1119.8 962.4,1120.7 974.6,1121.9 C986.9,1123.2 997.5,1126.1 1007.7,1128.4 C1017.8,1130.7 1026.9,1133.7 1035.6,1135.5 C1044.3,1137.3 1052.2,1138.5 1059.8,1139.5 C1067.4,1140.5 1074.4,1140.5 1081.2,1141.5 C1087.9,1142.5 1090.3,1143.2 1100.3,1145.6 C1110.2,1148.0 1128.5,1152.3 1140.7,1155.7 C1153.0,1159.1 1159.6,1161.1 1173.8,1165.8 C1188.0,1170.5 1210.5,1178.3 1225.9,1184.0 C1241.3,1189.7 1254.1,1194.3 1266.4,1200.2 C1278.6,1206.1 1285.2,1211.7 1299.4,1219.5 C1313.6,1227.3 1336.1,1238.2 1351.6,1247.0 C1367.0,1255.8 1385.3,1267.8 1392.0,1272.0" fill="none" stroke="#e0262c" stroke-width="3.6" stroke-linejoin="round"/>
<path d="M549.9,1141.5 L564.5,1156.1 M549.9,1156.1 L564.5,1141.5" stroke="#e0262c" stroke-width="2.6" stroke-linecap="round"/>
<path d="M675.6,1130.4 L690.2,1145.0 M675.6,1145.0 L690.2,1130.4" stroke="#e0262c" stroke-width="2.6" stroke-linecap="round"/>
<path d="M749.1,1118.3 L763.7,1132.9 M749.1,1132.9 L763.7,1118.3" stroke="#e0262c" stroke-width="2.6" stroke-linecap="round"/>
<path d="M801.2,1119.3 L815.8,1133.9 M801.2,1133.9 L815.8,1119.3" stroke="#e0262c" stroke-width="2.6" stroke-linecap="round"/>
<path d="M841.7,1121.3 L856.3,1135.9 M841.7,1135.9 L856.3,1121.3" stroke="#e0262c" stroke-width="2.6" stroke-linecap="round"/>
<path d="M874.7,1121.3 L889.3,1135.9 M874.7,1135.9 L889.3,1121.3" stroke="#e0262c" stroke-width="2.6" stroke-linecap="round"/>
<path d="M926.9,1113.6 L941.5,1128.2 M926.9,1128.2 L941.5,1113.6" stroke="#e0262c" stroke-width="2.6" stroke-linecap="round"/>
<path d="M967.3,1114.6 L981.9,1129.2 M967.3,1129.2 L981.9,1114.6" stroke="#e0262c" stroke-width="2.6" stroke-linecap="round"/>
<path d="M1000.4,1121.1 L1015.0,1135.7 M1000.4,1135.7 L1015.0,1121.1" stroke="#e0262c" stroke-width="2.6" stroke-linecap="round"/>
<path d="M1028.3,1128.2 L1042.9,1142.8 M1028.3,1142.8 L1042.9,1128.2" stroke="#e0262c" stroke-width="2.6" stroke-linecap="round"/>
<path d="M1052.5,1132.2 L1067.1,1146.8 M1052.5,1146.8 L1067.1,1132.2" stroke="#e0262c" stroke-width="2.6" stroke-linecap="round"/>
<path d="M1073.9,1134.2 L1088.5,1148.8 M1073.9,1148.8 L1088.5,1134.2" stroke="#e0262c" stroke-width="2.6" stroke-linecap="round"/>
<path d="M1093.0,1138.3 L1107.6,1152.9 M1093.0,1152.9 L1107.6,1138.3" stroke="#e0262c" stroke-width="2.6" stroke-linecap="round"/>
<path d="M1133.4,1148.4 L1148.0,1163.0 M1133.4,1163.0 L1148.0,1148.4" stroke="#e0262c" stroke-width="2.6" stroke-linecap="round"/>
<path d="M1166.5,1158.5 L1181.1,1173.1 M1166.5,1173.1 L1181.1,1158.5" stroke="#e0262c" stroke-width="2.6" stroke-linecap="round"/>
<path d="M1218.6,1176.7 L1233.2,1191.3 M1218.6,1191.3 L1233.2,1176.7" stroke="#e0262c" stroke-width="2.6" stroke-linecap="round"/>
<path d="M1259.1,1192.9 L1273.7,1207.5 M1259.1,1207.5 L1273.7,1192.9" stroke="#e0262c" stroke-width="2.6" stroke-linecap="round"/>
<path d="M1292.1,1212.2 L1306.7,1226.8 M1292.1,1226.8 L1306.7,1212.2" stroke="#e0262c" stroke-width="2.6" stroke-linecap="round"/>
<path d="M1344.3,1239.7 L1358.9,1254.3 M1344.3,1254.3 L1358.9,1239.7" stroke="#e0262c" stroke-width="2.6" stroke-linecap="round"/>
<path d="M1384.7,1264.7 L1399.3,1279.3 M1384.7,1279.3 L1399.3,1264.7" stroke="#e0262c" stroke-width="2.6" stroke-linecap="round"/>
<text x="222.0" y="1569.5" font-family='"Liberation Serif", serif' font-size="52.5" font-weight="normal" font-style="normal" text-anchor="end" fill="#231f20" textLength="25.5" lengthAdjust="spacingAndGlyphs">1</text>
<text x="222.0" y="1402.2" font-family='"Liberation Serif", serif' font-size="52.5" font-weight="normal" font-style="normal" text-anchor="end" fill="#231f20" textLength="51.0" lengthAdjust="spacingAndGlyphs">10</text>
<text x="222.0" y="1235.0" font-family='"Liberation Serif", serif' font-size="52.5" font-weight="normal" font-style="normal" text-anchor="end" fill="#231f20" textLength="76.5" lengthAdjust="spacingAndGlyphs">100</text>
<text x="222.0" y="1067.8" font-family='"Liberation Serif", serif' font-size="52.5" font-weight="normal" font-style="normal" text-anchor="end" fill="#231f20" textLength="102.0" lengthAdjust="spacingAndGlyphs">1000</text>
<text x="222.0" y="900.5" font-family='"Liberation Serif", serif' font-size="52.5" font-weight="normal" font-style="normal" text-anchor="end" fill="#231f20" textLength="127.5" lengthAdjust="spacingAndGlyphs">10000</text>
<text x="264.0" y="1630.6" font-family='"Liberation Serif", serif' font-size="52.5" font-weight="normal" font-style="normal" text-anchor="middle" fill="#231f20" textLength="89.2" lengthAdjust="spacingAndGlyphs">0.01</text>
<text x="681.4" y="1630.6" font-family='"Liberation Serif", serif' font-size="52.5" font-weight="normal" font-style="normal" text-anchor="middle" fill="#231f20" textLength="63.8" lengthAdjust="spacingAndGlyphs">0.1</text>
<text x="1098.8" y="1630.6" font-family='"Liberation Serif", serif' font-size="52.5" font-weight="normal" font-style="normal" text-anchor="middle" fill="#231f20" textLength="25.5" lengthAdjust="spacingAndGlyphs">1</text>
<text x="1390.5" y="1630.6" font-family='"Liberation Serif", serif' font-size="52.5" font-weight="normal" font-style="normal" text-anchor="middle" fill="#231f20" textLength="25.5" lengthAdjust="spacingAndGlyphs">5</text>
<text x="603.5" y="1686.2" font-family='"Liberation Serif", serif' font-size="63.0" font-weight="bold" font-style="normal" text-anchor="start" fill="#231f20" textLength="491.6" lengthAdjust="spacingAndGlyphs">Spectral period (s)</text>
<text transform="translate(62.0,1476.3) rotate(-90)" font-family='"Liberation Serif", serif' font-size="62" font-weight="bold" fill="#231f20" textLength="455" lengthAdjust="spacingAndGlyphs">Acc. spectra (gal)</text>
<text x="1.2" y="897.5" font-family='"Liberation Sans", sans-serif' font-size="67.0" font-weight="normal" font-style="normal" text-anchor="start" fill="#231f20" >(c)</text>
<text x="1286.9" y="973.8" font-family='"Liberation Serif", serif' font-size="75.5" font-weight="normal" font-style="normal" text-anchor="start" fill="#231f20" style="fill:#000" textLength="56.6" lengthAdjust="spacingAndGlyphs">H</text>
<text x="287.3" y="1380.1" font-family='"Liberation Serif", serif' font-size="57.0" font-weight="normal" font-style="italic" text-anchor="start" fill="#231f20" textLength="52.7" lengthAdjust="spacingAndGlyphs">M</text>
<text x="339.3" y="1390.1" font-family='"Liberation Serif", serif' font-size="33.0" font-weight="normal" font-style="normal" text-anchor="start" fill="#231f20" textLength="28.8" lengthAdjust="spacingAndGlyphs">W</text>
<text x="385.9" y="1380.1" font-family='"Liberation Serif", serif' font-size="57.0" font-weight="normal" font-style="normal" text-anchor="start" fill="#231f20" textLength="32.5" lengthAdjust="spacingAndGlyphs">=</text>
<text x="433.9" y="1380.1" font-family='"Liberation Serif", serif' font-size="57.0" font-weight="normal" font-style="normal" text-anchor="start" fill="#231f20" >6.0</text>
<text x="288.8" y="1445.7" font-family='"Liberation Serif", serif' font-size="57.0" font-weight="normal" font-style="normal" text-anchor="start" fill="#231f20" >Depth = 10 km</text>
<text x="288.8" y="1511.3" font-family='"Liberation Serif", serif' font-size="57.0" font-weight="normal" font-style="normal" text-anchor="start" fill="#231f20" >Dist. = 30 km</text>
<line x1="701.4" y1="1355.5" x2="800.8" y2="1355.5" stroke="#000000" stroke-width="3.6" stroke-linecap="round"/>
<rect x="742.9" y="1348.3" width="14.4" height="14.4" fill="#fff" stroke="#000000" stroke-width="2.6" stroke-linejoin="round"/>
<text x="813.1" y="1372.1" font-family='"Liberation Serif", serif' font-size="52.5" font-weight="normal" font-style="normal" text-anchor="start" fill="#231f20" textLength="68.0" lengthAdjust="spacingAndGlyphs">1%</text>
<line x1="959.4" y1="1355.5" x2="1058.8" y2="1355.5" stroke="#000000" stroke-width="3.6" stroke-linecap="round"/>
<path d="M1008.1,1348.8 L1014.9,1362.2 L1001.3,1362.2 Z" fill="#fff" stroke="#000000" stroke-width="2.6" stroke-linejoin="round"/>
<text x="1071.1" y="1372.1" font-family='"Liberation Serif", serif' font-size="52.5" font-weight="normal" font-style="normal" text-anchor="start" fill="#231f20" textLength="68.0" lengthAdjust="spacingAndGlyphs">2%</text>
<line x1="701.4" y1="1426.5" x2="800.8" y2="1426.5" stroke="#653d8a" stroke-width="3.6" stroke-linecap="round"/>
<circle cx="750.1" cy="1426.5" r="7.2" fill="#fff" stroke="#653d8a" stroke-width="2.6"/>
<text x="813.1" y="1443.1" font-family='"Liberation Serif", serif' font-size="52.5" font-weight="normal" font-style="normal" text-anchor="start" fill="#231f20" textLength="68.0" lengthAdjust="spacingAndGlyphs">5%</text>
<line x1="959.4" y1="1426.5" x2="1058.8" y2="1426.5" stroke="#e0262c" stroke-width="3.6" stroke-linecap="round"/>
<rect x="1000.9" y="1419.3" width="14.4" height="14.4" fill="#fff" stroke="#e0262c" stroke-width="2.6" stroke-linejoin="round"/>
<text x="1071.1" y="1443.1" font-family='"Liberation Serif", serif' font-size="52.5" font-weight="normal" font-style="normal" text-anchor="start" fill="#231f20" textLength="68.0" lengthAdjust="spacingAndGlyphs">8%</text>
<line x1="701.4" y1="1497.5" x2="800.8" y2="1497.5" stroke="#e0262c" stroke-width="3.6" stroke-linecap="round"/>
<path d="M750.1,1490.8 L756.9,1504.2 L743.3,1504.2 Z" fill="#fff" stroke="#e0262c" stroke-width="2.6" stroke-linejoin="round"/>
<text x="813.1" y="1514.1" font-family='"Liberation Serif", serif' font-size="52.5" font-weight="normal" font-style="normal" text-anchor="start" fill="#231f20" textLength="93.5" lengthAdjust="spacingAndGlyphs">15%</text>
<line x1="959.4" y1="1497.5" x2="1058.8" y2="1497.5" stroke="#e0262c" stroke-width="3.6" stroke-linecap="round"/>
<path d="M1001.2,1490.6 L1015.0,1504.4 M1001.2,1504.4 L1015.0,1490.6" stroke="#e0262c" stroke-width="2.6" stroke-linecap="round"/>
<text x="1071.1" y="1514.1" font-family='"Liberation Serif", serif' font-size="52.5" font-weight="normal" font-style="normal" text-anchor="start" fill="#231f20" textLength="93.5" lengthAdjust="spacingAndGlyphs">30%</text>
</g>
<g>
<line x1="1845.1" y1="891.0" x2="1845.1" y2="1559.5" stroke="#c8c8c8" stroke-width="1.7" stroke-dasharray="9.5 4.5"/>
<line x1="1918.3" y1="891.0" x2="1918.3" y2="1559.5" stroke="#c8c8c8" stroke-width="1.7" stroke-dasharray="9.5 4.5"/>
<line x1="1970.3" y1="891.0" x2="1970.3" y2="1559.5" stroke="#c8c8c8" stroke-width="1.7" stroke-dasharray="9.5 4.5"/>
<line x1="2010.6" y1="891.0" x2="2010.6" y2="1559.5" stroke="#c8c8c8" stroke-width="1.7" stroke-dasharray="9.5 4.5"/>
<line x1="2043.5" y1="891.0" x2="2043.5" y2="1559.5" stroke="#c8c8c8" stroke-width="1.7" stroke-dasharray="9.5 4.5"/>
<line x1="2071.3" y1="891.0" x2="2071.3" y2="1559.5" stroke="#c8c8c8" stroke-width="1.7" stroke-dasharray="9.5 4.5"/>
<line x1="2095.4" y1="891.0" x2="2095.4" y2="1559.5" stroke="#c8c8c8" stroke-width="1.7" stroke-dasharray="9.5 4.5"/>
<line x1="2116.7" y1="891.0" x2="2116.7" y2="1559.5" stroke="#c8c8c8" stroke-width="1.7" stroke-dasharray="9.5 4.5"/>
<line x1="2260.9" y1="891.0" x2="2260.9" y2="1559.5" stroke="#c8c8c8" stroke-width="1.7" stroke-dasharray="9.5 4.5"/>
<line x1="2334.1" y1="891.0" x2="2334.1" y2="1559.5" stroke="#c8c8c8" stroke-width="1.7" stroke-dasharray="9.5 4.5"/>
<line x1="2386.0" y1="891.0" x2="2386.0" y2="1559.5" stroke="#c8c8c8" stroke-width="1.7" stroke-dasharray="9.5 4.5"/>
<line x1="2426.3" y1="891.0" x2="2426.3" y2="1559.5" stroke="#c8c8c8" stroke-width="1.7" stroke-dasharray="9.5 4.5"/>
<line x1="2459.2" y1="891.0" x2="2459.2" y2="1559.5" stroke="#c8c8c8" stroke-width="1.7" stroke-dasharray="9.5 4.5"/>
<line x1="2487.0" y1="891.0" x2="2487.0" y2="1559.5" stroke="#c8c8c8" stroke-width="1.7" stroke-dasharray="9.5 4.5"/>
<line x1="2511.1" y1="891.0" x2="2511.1" y2="1559.5" stroke="#c8c8c8" stroke-width="1.7" stroke-dasharray="9.5 4.5"/>
<line x1="2532.4" y1="891.0" x2="2532.4" y2="1559.5" stroke="#c8c8c8" stroke-width="1.7" stroke-dasharray="9.5 4.5"/>
<line x1="2676.6" y1="891.0" x2="2676.6" y2="1559.5" stroke="#c8c8c8" stroke-width="1.7" stroke-dasharray="9.5 4.5"/>
<line x1="2749.8" y1="891.0" x2="2749.8" y2="1559.5" stroke="#c8c8c8" stroke-width="1.7" stroke-dasharray="9.5 4.5"/>
<line x1="2801.7" y1="891.0" x2="2801.7" y2="1559.5" stroke="#c8c8c8" stroke-width="1.7" stroke-dasharray="9.5 4.5"/>
<line x1="2135.7" y1="891.0" x2="2135.7" y2="1559.5" stroke="#cccccc" stroke-width="1.7"/>
<line x1="2551.4" y1="891.0" x2="2551.4" y2="1559.5" stroke="#cccccc" stroke-width="1.7"/>
<line x1="1720.0" y1="1336.7" x2="2842.0" y2="1336.7" stroke="#cccccc" stroke-width="1.7"/>
<line x1="1720.0" y1="1113.8" x2="2842.0" y2="1113.8" stroke="#cccccc" stroke-width="1.7"/>
<rect x="1735.0" y="1328.0" width="357.0" height="216.0" fill="#fff"/>
<rect x="2157.0" y="1328.0" width="513.0" height="216.0" fill="#fff"/>
<rect x="2740.0" y="914.0" width="55.0" height="80.0" fill="#fff"/>
<rect x="1720.0" y="891.0" width="1122.0" height="668.5" fill="none" stroke="#474747" stroke-width="1.7" stroke-linejoin="round"/>
<path d="M1720.0,1208.5 C1768.4,1203.1 1962.3,1190.6 2010.6,1175.9 C2079.9,1154.8 2102.7,1096.7 2135.7,1081.9 C2168.8,1067.1 2188.1,1086.1 2208.9,1086.9 C2229.8,1087.7 2245.5,1088.4 2260.9,1086.9 C2276.2,1085.4 2288.9,1081.5 2301.1,1077.8 C2313.3,1074.1 2319.9,1067.9 2334.1,1064.7 C2348.2,1061.5 2370.6,1059.9 2386.0,1058.6 C2401.4,1057.3 2414.1,1057.5 2426.3,1057.0 C2438.5,1056.5 2449.1,1055.2 2459.2,1055.6 C2469.3,1056.0 2478.4,1058.9 2487.0,1059.6 C2495.7,1060.3 2503.6,1058.6 2511.1,1059.6 C2518.7,1060.6 2525.7,1063.7 2532.4,1065.7 C2539.1,1067.7 2541.5,1066.9 2551.4,1071.8 C2561.3,1076.7 2579.5,1087.6 2591.7,1095.0 C2603.9,1102.4 2610.5,1103.8 2624.6,1116.3 C2638.8,1128.8 2661.2,1154.8 2676.6,1169.8 C2691.9,1184.8 2704.7,1193.0 2716.9,1206.0 C2729.1,1219.0 2735.6,1229.0 2749.8,1247.5 C2763.9,1266.0 2786.3,1295.6 2801.7,1317.1 C2817.1,1338.6 2835.3,1366.5 2842.0,1376.4" fill="none" stroke="#000000" stroke-width="3.6" stroke-linejoin="round"/>
<rect x="2003.0" y="1168.3" width="15.2" height="15.2" fill="#fff" stroke="#000000" stroke-width="2.6" stroke-linejoin="round"/>
<rect x="2128.1" y="1074.3" width="15.2" height="15.2" fill="#fff" stroke="#000000" stroke-width="2.6" stroke-linejoin="round"/>
<rect x="2201.3" y="1079.3" width="15.2" height="15.2" fill="#fff" stroke="#000000" stroke-width="2.6" stroke-linejoin="round"/>
<rect x="2253.3" y="1079.3" width="15.2" height="15.2" fill="#fff" stroke="#000000" stroke-width="2.6" stroke-linejoin="round"/>
<rect x="2293.5" y="1070.2" width="15.2" height="15.2" fill="#fff" stroke="#000000" stroke-width="2.6" stroke-linejoin="round"/>
<rect x="2326.5" y="1057.1" width="15.2" height="15.2" fill="#fff" stroke="#000000" stroke-width="2.6" stroke-linejoin="round"/>
<rect x="2378.4" y="1051.0" width="15.2" height="15.2" fill="#fff" stroke="#000000" stroke-width="2.6" stroke-linejoin="round"/>
<rect x="2418.7" y="1049.4" width="15.2" height="15.2" fill="#fff" stroke="#000000" stroke-width="2.6" stroke-linejoin="round"/>
<rect x="2451.6" y="1048.0" width="15.2" height="15.2" fill="#fff" stroke="#000000" stroke-width="2.6" stroke-linejoin="round"/>
<rect x="2479.4" y="1052.0" width="15.2" height="15.2" fill="#fff" stroke="#000000" stroke-width="2.6" stroke-linejoin="round"/>
<rect x="2503.5" y="1052.0" width="15.2" height="15.2" fill="#fff" stroke="#000000" stroke-width="2.6" stroke-linejoin="round"/>
<rect x="2524.8" y="1058.1" width="15.2" height="15.2" fill="#fff" stroke="#000000" stroke-width="2.6" stroke-linejoin="round"/>
<rect x="2543.8" y="1064.2" width="15.2" height="15.2" fill="#fff" stroke="#000000" stroke-width="2.6" stroke-linejoin="round"/>
<rect x="2584.1" y="1087.4" width="15.2" height="15.2" fill="#fff" stroke="#000000" stroke-width="2.6" stroke-linejoin="round"/>
<rect x="2617.0" y="1108.7" width="15.2" height="15.2" fill="#fff" stroke="#000000" stroke-width="2.6" stroke-linejoin="round"/>
<rect x="2669.0" y="1162.2" width="15.2" height="15.2" fill="#fff" stroke="#000000" stroke-width="2.6" stroke-linejoin="round"/>
<rect x="2709.3" y="1198.4" width="15.2" height="15.2" fill="#fff" stroke="#000000" stroke-width="2.6" stroke-linejoin="round"/>
<rect x="2742.2" y="1239.9" width="15.2" height="15.2" fill="#fff" stroke="#000000" stroke-width="2.6" stroke-linejoin="round"/>
<rect x="2794.1" y="1309.5" width="15.2" height="15.2" fill="#fff" stroke="#000000" stroke-width="2.6" stroke-linejoin="round"/>
<rect x="2834.4" y="1368.8" width="15.2" height="15.2" fill="#fff" stroke="#000000" stroke-width="2.6" stroke-linejoin="round"/>
<path d="M1720.0,1212.0 C1768.4,1208.3 1963.1,1202.3 2010.6,1190.0 C2079.9,1172.0 2102.7,1117.4 2135.7,1104.1 C2168.8,1090.8 2188.1,1109.2 2208.9,1110.2 C2229.8,1111.2 2245.5,1111.7 2260.9,1110.2 C2276.2,1108.7 2288.9,1104.8 2301.1,1101.1 C2313.3,1097.4 2319.9,1091.4 2334.1,1088.0 C2348.2,1084.6 2370.6,1082.4 2386.0,1080.9 C2401.4,1079.4 2414.1,1079.4 2426.3,1078.9 C2438.5,1078.4 2449.1,1077.5 2459.2,1077.8 C2469.3,1078.1 2478.4,1080.4 2487.0,1080.9 C2495.7,1081.4 2503.6,1079.9 2511.1,1080.9 C2518.7,1081.9 2525.7,1084.9 2532.4,1086.9 C2539.1,1088.9 2541.5,1088.1 2551.4,1093.0 C2561.3,1097.9 2579.5,1109.0 2591.7,1116.3 C2603.9,1123.5 2610.5,1124.2 2624.6,1136.5 C2638.8,1148.8 2661.2,1175.2 2676.6,1190.0 C2691.9,1204.8 2704.7,1212.7 2716.9,1225.5 C2729.1,1238.3 2735.6,1248.5 2749.8,1267.0 C2763.9,1285.5 2786.3,1314.4 2801.7,1336.4 C2817.1,1358.5 2835.3,1388.8 2842.0,1399.3" fill="none" stroke="#000000" stroke-width="3.6" stroke-linejoin="round"/>
<path d="M2010.6,1183.0 L2017.8,1197.0 L2003.4,1197.0 Z" fill="#fff" stroke="#000000" stroke-width="2.6" stroke-linejoin="round"/>
<path d="M2135.7,1097.0 L2142.9,1111.1 L2128.5,1111.1 Z" fill="#fff" stroke="#000000" stroke-width="2.6" stroke-linejoin="round"/>
<path d="M2208.9,1103.2 L2216.1,1117.2 L2201.7,1117.2 Z" fill="#fff" stroke="#000000" stroke-width="2.6" stroke-linejoin="round"/>
<path d="M2260.9,1103.2 L2268.1,1117.2 L2253.7,1117.2 Z" fill="#fff" stroke="#000000" stroke-width="2.6" stroke-linejoin="round"/>
<path d="M2301.1,1094.0 L2308.3,1108.1 L2293.9,1108.1 Z" fill="#fff" stroke="#000000" stroke-width="2.6" stroke-linejoin="round"/>
<path d="M2334.1,1081.0 L2341.3,1095.0 L2326.9,1095.0 Z" fill="#fff" stroke="#000000" stroke-width="2.6" stroke-linejoin="round"/>
<path d="M2386.0,1073.9 L2393.2,1088.0 L2378.8,1088.0 Z" fill="#fff" stroke="#000000" stroke-width="2.6" stroke-linejoin="round"/>
<path d="M2426.3,1071.9 L2433.5,1086.0 L2419.1,1086.0 Z" fill="#fff" stroke="#000000" stroke-width="2.6" stroke-linejoin="round"/>
<path d="M2459.2,1070.8 L2466.4,1084.8 L2452.0,1084.8 Z" fill="#fff" stroke="#000000" stroke-width="2.6" stroke-linejoin="round"/>
<path d="M2487.0,1073.9 L2494.2,1088.0 L2479.8,1088.0 Z" fill="#fff" stroke="#000000" stroke-width="2.6" stroke-linejoin="round"/>
<path d="M2511.1,1073.9 L2518.3,1088.0 L2503.9,1088.0 Z" fill="#fff" stroke="#000000" stroke-width="2.6" stroke-linejoin="round"/>
<path d="M2532.4,1079.9 L2539.6,1094.0 L2525.2,1094.0 Z" fill="#fff" stroke="#000000" stroke-width="2.6" stroke-linejoin="round"/>
<path d="M2551.4,1086.0 L2558.6,1100.0 L2544.2,1100.0 Z" fill="#fff" stroke="#000000" stroke-width="2.6" stroke-linejoin="round"/>
<path d="M2591.7,1109.2 L2598.9,1123.3 L2584.5,1123.3 Z" fill="#fff" stroke="#000000" stroke-width="2.6" stroke-linejoin="round"/>
<path d="M2624.6,1129.5 L2631.8,1143.5 L2617.4,1143.5 Z" fill="#fff" stroke="#000000" stroke-width="2.6" stroke-linejoin="round"/>
<path d="M2676.6,1183.0 L2683.8,1197.0 L2669.4,1197.0 Z" fill="#fff" stroke="#000000" stroke-width="2.6" stroke-linejoin="round"/>
<path d="M2716.9,1218.5 L2724.1,1232.5 L2709.7,1232.5 Z" fill="#fff" stroke="#000000" stroke-width="2.6" stroke-linejoin="round"/>
<path d="M2749.8,1260.0 L2757.0,1274.0 L2742.6,1274.0 Z" fill="#fff" stroke="#000000" stroke-width="2.6" stroke-linejoin="round"/>
<path d="M2801.7,1329.4 L2808.9,1343.5 L2794.5,1343.5 Z" fill="#fff" stroke="#000000" stroke-width="2.6" stroke-linejoin="round"/>
<path d="M2842.0,1392.2 L2849.2,1406.3 L2834.8,1406.3 Z" fill="#fff" stroke="#000000" stroke-width="2.6" stroke-linejoin="round"/>
<path d="M1720.0,1214.5 C1768.4,1212.0 1964.8,1208.6 2010.6,1199.2 C2079.9,1185.0 2102.7,1139.4 2135.7,1129.4 C2168.8,1119.5 2188.1,1137.7 2208.9,1139.5 C2229.8,1141.3 2245.5,1141.7 2260.9,1140.5 C2276.2,1139.3 2288.9,1135.9 2301.1,1132.4 C2313.3,1128.9 2319.9,1122.5 2334.1,1119.3 C2348.2,1116.1 2370.6,1114.7 2386.0,1113.2 C2401.4,1111.7 2414.1,1111.0 2426.3,1110.5 C2438.5,1110.0 2449.1,1109.8 2459.2,1110.2 C2469.3,1110.7 2478.4,1112.7 2487.0,1113.2 C2495.7,1113.7 2503.6,1112.4 2511.1,1113.2 C2518.7,1114.0 2525.7,1116.4 2532.4,1118.3 C2539.1,1120.2 2541.5,1119.7 2551.4,1124.7 C2561.3,1129.8 2579.5,1141.4 2591.7,1148.6 C2603.9,1155.8 2610.5,1155.9 2624.6,1167.8 C2638.8,1179.7 2661.2,1205.5 2676.6,1220.0 C2691.9,1234.5 2704.7,1242.5 2716.9,1254.9 C2729.1,1267.3 2735.6,1277.8 2749.8,1294.5 C2763.9,1311.2 2786.3,1336.4 2801.7,1355.0 C2817.1,1373.6 2835.3,1397.5 2842.0,1406.0" fill="none" stroke="#653d8a" stroke-width="3.6" stroke-linejoin="round"/>
<circle cx="2010.6" cy="1199.2" r="7.6" fill="#fff" stroke="#653d8a" stroke-width="2.6"/>
<circle cx="2135.7" cy="1129.4" r="7.6" fill="#fff" stroke="#653d8a" stroke-width="2.6"/>
<circle cx="2208.9" cy="1139.5" r="7.6" fill="#fff" stroke="#653d8a" stroke-width="2.6"/>
<circle cx="2260.9" cy="1140.5" r="7.6" fill="#fff" stroke="#653d8a" stroke-width="2.6"/>
<circle cx="2301.1" cy="1132.4" r="7.6" fill="#fff" stroke="#653d8a" stroke-width="2.6"/>
<circle cx="2334.1" cy="1119.3" r="7.6" fill="#fff" stroke="#653d8a" stroke-width="2.6"/>
<circle cx="2386.0" cy="1113.2" r="7.6" fill="#fff" stroke="#653d8a" stroke-width="2.6"/>
<circle cx="2426.3" cy="1110.5" r="7.6" fill="#fff" stroke="#653d8a" stroke-width="2.6"/>
<circle cx="2459.2" cy="1110.2" r="7.6" fill="#fff" stroke="#653d8a" stroke-width="2.6"/>
<circle cx="2487.0" cy="1113.2" r="7.6" fill="#fff" stroke="#653d8a" stroke-width="2.6"/>
<circle cx="2511.1" cy="1113.2" r="7.6" fill="#fff" stroke="#653d8a" stroke-width="2.6"/>
<circle cx="2532.4" cy="1118.3" r="7.6" fill="#fff" stroke="#653d8a" stroke-width="2.6"/>
<circle cx="2551.4" cy="1124.7" r="7.6" fill="#fff" stroke="#653d8a" stroke-width="2.6"/>
<circle cx="2591.7" cy="1148.6" r="7.6" fill="#fff" stroke="#653d8a" stroke-width="2.6"/>
<circle cx="2624.6" cy="1167.8" r="7.6" fill="#fff" stroke="#653d8a" stroke-width="2.6"/>
<circle cx="2676.6" cy="1220.0" r="7.6" fill="#fff" stroke="#653d8a" stroke-width="2.6"/>
<circle cx="2716.9" cy="1254.9" r="7.6" fill="#fff" stroke="#653d8a" stroke-width="2.6"/>
<circle cx="2749.8" cy="1294.5" r="7.6" fill="#fff" stroke="#653d8a" stroke-width="2.6"/>
<circle cx="2801.7" cy="1355.0" r="7.6" fill="#fff" stroke="#653d8a" stroke-width="2.6"/>
<circle cx="2842.0" cy="1406.0" r="7.6" fill="#fff" stroke="#653d8a" stroke-width="2.6"/>
<path d="M1720.0,1216.5 C1768.4,1214.3 1965.9,1211.0 2010.6,1203.2 C2079.9,1191.1 2102.7,1151.9 2135.7,1144.0 C2168.8,1136.1 2188.1,1153.4 2208.9,1155.7 C2229.8,1158.0 2245.5,1158.7 2260.9,1157.7 C2276.2,1156.7 2288.9,1153.1 2301.1,1149.6 C2313.3,1146.1 2319.9,1139.7 2334.1,1136.5 C2348.2,1133.3 2370.6,1131.9 2386.0,1130.4 C2401.4,1128.9 2414.1,1128.3 2426.3,1127.6 C2438.5,1126.9 2449.1,1125.9 2459.2,1126.4 C2469.3,1126.9 2478.4,1129.9 2487.0,1130.4 C2495.7,1130.9 2503.6,1128.7 2511.1,1129.4 C2518.7,1130.1 2525.7,1132.5 2532.4,1134.5 C2539.1,1136.5 2541.5,1137.0 2551.4,1141.5 C2561.3,1146.0 2579.5,1155.0 2591.7,1161.7 C2603.9,1168.5 2610.5,1169.7 2624.6,1182.0 C2638.8,1194.3 2661.2,1220.9 2676.6,1235.5 C2691.9,1250.1 2704.7,1258.2 2716.9,1269.7 C2729.1,1281.2 2735.6,1287.8 2749.8,1304.5 C2763.9,1321.2 2786.3,1351.0 2801.7,1370.0 C2817.1,1389.0 2835.3,1410.2 2842.0,1418.2" fill="none" stroke="#e0262c" stroke-width="3.6" stroke-linejoin="round"/>
<rect x="2003.0" y="1195.6" width="15.2" height="15.2" fill="#fff" stroke="#e0262c" stroke-width="2.6" stroke-linejoin="round"/>
<rect x="2128.1" y="1136.4" width="15.2" height="15.2" fill="#fff" stroke="#e0262c" stroke-width="2.6" stroke-linejoin="round"/>
<rect x="2201.3" y="1148.1" width="15.2" height="15.2" fill="#fff" stroke="#e0262c" stroke-width="2.6" stroke-linejoin="round"/>
<rect x="2253.3" y="1150.1" width="15.2" height="15.2" fill="#fff" stroke="#e0262c" stroke-width="2.6" stroke-linejoin="round"/>
<rect x="2293.5" y="1142.0" width="15.2" height="15.2" fill="#fff" stroke="#e0262c" stroke-width="2.6" stroke-linejoin="round"/>
<rect x="2326.5" y="1128.9" width="15.2" height="15.2" fill="#fff" stroke="#e0262c" stroke-width="2.6" stroke-linejoin="round"/>
<rect x="2378.4" y="1122.8" width="15.2" height="15.2" fill="#fff" stroke="#e0262c" stroke-width="2.6" stroke-linejoin="round"/>
<rect x="2418.7" y="1120.0" width="15.2" height="15.2" fill="#fff" stroke="#e0262c" stroke-width="2.6" stroke-linejoin="round"/>
<rect x="2451.6" y="1118.8" width="15.2" height="15.2" fill="#fff" stroke="#e0262c" stroke-width="2.6" stroke-linejoin="round"/>
<rect x="2479.4" y="1122.8" width="15.2" height="15.2" fill="#fff" stroke="#e0262c" stroke-width="2.6" stroke-linejoin="round"/>
<rect x="2503.5" y="1121.8" width="15.2" height="15.2" fill="#fff" stroke="#e0262c" stroke-width="2.6" stroke-linejoin="round"/>
<rect x="2524.8" y="1126.9" width="15.2" height="15.2" fill="#fff" stroke="#e0262c" stroke-width="2.6" stroke-linejoin="round"/>
<rect x="2543.8" y="1133.9" width="15.2" height="15.2" fill="#fff" stroke="#e0262c" stroke-width="2.6" stroke-linejoin="round"/>
<rect x="2584.1" y="1154.1" width="15.2" height="15.2" fill="#fff" stroke="#e0262c" stroke-width="2.6" stroke-linejoin="round"/>
<rect x="2617.0" y="1174.4" width="15.2" height="15.2" fill="#fff" stroke="#e0262c" stroke-width="2.6" stroke-linejoin="round"/>
<rect x="2669.0" y="1227.9" width="15.2" height="15.2" fill="#fff" stroke="#e0262c" stroke-width="2.6" stroke-linejoin="round"/>
<rect x="2709.3" y="1262.1" width="15.2" height="15.2" fill="#fff" stroke="#e0262c" stroke-width="2.6" stroke-linejoin="round"/>
<rect x="2742.2" y="1296.9" width="15.2" height="15.2" fill="#fff" stroke="#e0262c" stroke-width="2.6" stroke-linejoin="round"/>
<rect x="2794.1" y="1362.4" width="15.2" height="15.2" fill="#fff" stroke="#e0262c" stroke-width="2.6" stroke-linejoin="round"/>
<rect x="2834.4" y="1410.6" width="15.2" height="15.2" fill="#fff" stroke="#e0262c" stroke-width="2.6" stroke-linejoin="round"/>
<path d="M1720.0,1218.0 C1768.4,1216.4 1967.1,1214.0 2010.6,1208.2 C2079.9,1199.0 2102.7,1168.0 2135.7,1162.8 C2168.8,1157.6 2188.1,1174.1 2208.9,1176.9 C2229.8,1179.8 2245.5,1180.7 2260.9,1179.9 C2276.2,1179.1 2288.9,1175.4 2301.1,1171.9 C2313.3,1168.4 2319.9,1161.9 2334.1,1158.7 C2348.2,1155.5 2370.6,1154.2 2386.0,1152.6 C2401.4,1151.0 2414.1,1150.0 2426.3,1149.0 C2438.5,1148.0 2449.1,1146.5 2459.2,1146.6 C2469.3,1146.7 2478.4,1149.4 2487.0,1149.6 C2495.7,1149.8 2503.6,1147.1 2511.1,1147.6 C2518.7,1148.1 2525.7,1150.8 2532.4,1152.6 C2539.1,1154.4 2541.5,1154.5 2551.4,1158.7 C2561.3,1162.9 2579.5,1172.0 2591.7,1177.9 C2603.9,1183.8 2610.5,1183.8 2624.6,1194.1 C2638.8,1204.4 2661.2,1227.0 2676.6,1239.5 C2691.9,1252.0 2704.7,1258.5 2716.9,1269.0 C2729.1,1279.5 2735.6,1287.1 2749.8,1302.3 C2763.9,1317.5 2786.3,1343.5 2801.7,1360.2 C2817.1,1376.9 2835.3,1395.6 2842.0,1402.7" fill="none" stroke="#e0262c" stroke-width="3.6" stroke-linejoin="round"/>
<path d="M2010.6,1201.2 L2017.8,1215.2 L2003.4,1215.2 Z" fill="#fff" stroke="#e0262c" stroke-width="2.6" stroke-linejoin="round"/>
<path d="M2135.7,1155.8 L2142.9,1169.8 L2128.5,1169.8 Z" fill="#fff" stroke="#e0262c" stroke-width="2.6" stroke-linejoin="round"/>
<path d="M2208.9,1169.9 L2216.1,1184.0 L2201.7,1184.0 Z" fill="#fff" stroke="#e0262c" stroke-width="2.6" stroke-linejoin="round"/>
<path d="M2260.9,1172.9 L2268.1,1187.0 L2253.7,1187.0 Z" fill="#fff" stroke="#e0262c" stroke-width="2.6" stroke-linejoin="round"/>
<path d="M2301.1,1164.9 L2308.3,1179.0 L2293.9,1179.0 Z" fill="#fff" stroke="#e0262c" stroke-width="2.6" stroke-linejoin="round"/>
<path d="M2334.1,1151.7 L2341.3,1165.8 L2326.9,1165.8 Z" fill="#fff" stroke="#e0262c" stroke-width="2.6" stroke-linejoin="round"/>
<path d="M2386.0,1145.5 L2393.2,1159.6 L2378.8,1159.6 Z" fill="#fff" stroke="#e0262c" stroke-width="2.6" stroke-linejoin="round"/>
<path d="M2426.3,1142.0 L2433.5,1156.0 L2419.1,1156.0 Z" fill="#fff" stroke="#e0262c" stroke-width="2.6" stroke-linejoin="round"/>
<path d="M2459.2,1139.5 L2466.4,1153.6 L2452.0,1153.6 Z" fill="#fff" stroke="#e0262c" stroke-width="2.6" stroke-linejoin="round"/>
<path d="M2487.0,1142.5 L2494.2,1156.6 L2479.8,1156.6 Z" fill="#fff" stroke="#e0262c" stroke-width="2.6" stroke-linejoin="round"/>
<path d="M2511.1,1140.5 L2518.3,1154.6 L2503.9,1154.6 Z" fill="#fff" stroke="#e0262c" stroke-width="2.6" stroke-linejoin="round"/>
<path d="M2532.4,1145.5 L2539.6,1159.6 L2525.2,1159.6 Z" fill="#fff" stroke="#e0262c" stroke-width="2.6" stroke-linejoin="round"/>
<path d="M2551.4,1151.7 L2558.6,1165.8 L2544.2,1165.8 Z" fill="#fff" stroke="#e0262c" stroke-width="2.6" stroke-linejoin="round"/>
<path d="M2591.7,1170.9 L2598.9,1185.0 L2584.5,1185.0 Z" fill="#fff" stroke="#e0262c" stroke-width="2.6" stroke-linejoin="round"/>
<path d="M2624.6,1187.0 L2631.8,1201.1 L2617.4,1201.1 Z" fill="#fff" stroke="#e0262c" stroke-width="2.6" stroke-linejoin="round"/>
<path d="M2676.6,1232.5 L2683.8,1246.5 L2669.4,1246.5 Z" fill="#fff" stroke="#e0262c" stroke-width="2.6" stroke-linejoin="round"/>
<path d="M2716.9,1262.0 L2724.1,1276.0 L2709.7,1276.0 Z" fill="#fff" stroke="#e0262c" stroke-width="2.6" stroke-linejoin="round"/>
<path d="M2749.8,1295.2 L2757.0,1309.3 L2742.6,1309.3 Z" fill="#fff" stroke="#e0262c" stroke-width="2.6" stroke-linejoin="round"/>
<path d="M2801.7,1353.2 L2808.9,1367.2 L2794.5,1367.2 Z" fill="#fff" stroke="#e0262c" stroke-width="2.6" stroke-linejoin="round"/>
<path d="M2842.0,1395.7 L2849.2,1409.8 L2834.8,1409.8 Z" fill="#fff" stroke="#e0262c" stroke-width="2.6" stroke-linejoin="round"/>
<path d="M1720.0,1219.5 C1768.4,1218.8 1967.6,1219.6 2010.6,1215.3 C2079.9,1208.4 2102.7,1180.9 2135.7,1177.9 C2168.8,1174.9 2188.1,1193.2 2208.9,1197.1 C2229.8,1201.0 2245.5,1202.0 2260.9,1201.2 C2276.2,1200.4 2288.9,1196.0 2301.1,1192.1 C2313.3,1188.2 2319.9,1181.6 2334.1,1177.9 C2348.2,1174.2 2370.6,1172.0 2386.0,1169.8 C2401.4,1167.6 2414.1,1166.5 2426.3,1164.8 C2438.5,1163.1 2449.1,1160.7 2459.2,1159.7 C2469.3,1158.7 2478.4,1159.5 2487.0,1158.7 C2495.7,1157.9 2503.6,1155.2 2511.1,1154.7 C2518.7,1154.2 2525.7,1154.9 2532.4,1155.7 C2539.1,1156.5 2541.5,1156.7 2551.4,1159.7 C2561.3,1162.7 2579.5,1169.5 2591.7,1173.9 C2603.9,1178.3 2610.5,1177.4 2624.6,1186.0 C2638.8,1194.6 2661.2,1215.4 2676.6,1225.3 C2691.9,1235.2 2704.7,1237.4 2716.9,1245.5 C2729.1,1253.6 2735.6,1261.8 2749.8,1274.0 C2763.9,1286.2 2786.3,1305.3 2801.7,1318.6 C2817.1,1331.8 2835.3,1347.7 2842.0,1353.5" fill="none" stroke="#e0262c" stroke-width="3.6" stroke-linejoin="round"/>
<path d="M2003.3,1208.0 L2017.9,1222.6 M2003.3,1222.6 L2017.9,1208.0" stroke="#e0262c" stroke-width="2.6" stroke-linecap="round"/>
<path d="M2128.4,1170.6 L2143.0,1185.2 M2128.4,1185.2 L2143.0,1170.6" stroke="#e0262c" stroke-width="2.6" stroke-linecap="round"/>
<path d="M2201.6,1189.8 L2216.2,1204.4 M2201.6,1204.4 L2216.2,1189.8" stroke="#e0262c" stroke-width="2.6" stroke-linecap="round"/>
<path d="M2253.6,1193.9 L2268.2,1208.5 M2253.6,1208.5 L2268.2,1193.9" stroke="#e0262c" stroke-width="2.6" stroke-linecap="round"/>
<path d="M2293.8,1184.8 L2308.4,1199.4 M2293.8,1199.4 L2308.4,1184.8" stroke="#e0262c" stroke-width="2.6" stroke-linecap="round"/>
<path d="M2326.8,1170.6 L2341.4,1185.2 M2326.8,1185.2 L2341.4,1170.6" stroke="#e0262c" stroke-width="2.6" stroke-linecap="round"/>
<path d="M2378.7,1162.5 L2393.3,1177.1 M2378.7,1177.1 L2393.3,1162.5" stroke="#e0262c" stroke-width="2.6" stroke-linecap="round"/>
<path d="M2419.0,1157.5 L2433.6,1172.1 M2419.0,1172.1 L2433.6,1157.5" stroke="#e0262c" stroke-width="2.6" stroke-linecap="round"/>
<path d="M2451.9,1152.4 L2466.5,1167.0 M2451.9,1167.0 L2466.5,1152.4" stroke="#e0262c" stroke-width="2.6" stroke-linecap="round"/>
<path d="M2479.7,1151.4 L2494.3,1166.0 M2479.7,1166.0 L2494.3,1151.4" stroke="#e0262c" stroke-width="2.6" stroke-linecap="round"/>
<path d="M2503.8,1147.4 L2518.4,1162.0 M2503.8,1162.0 L2518.4,1147.4" stroke="#e0262c" stroke-width="2.6" stroke-linecap="round"/>
<path d="M2525.1,1148.4 L2539.7,1163.0 M2525.1,1163.0 L2539.7,1148.4" stroke="#e0262c" stroke-width="2.6" stroke-linecap="round"/>
<path d="M2544.1,1152.4 L2558.7,1167.0 M2544.1,1167.0 L2558.7,1152.4" stroke="#e0262c" stroke-width="2.6" stroke-linecap="round"/>
<path d="M2584.4,1166.6 L2599.0,1181.2 M2584.4,1181.2 L2599.0,1166.6" stroke="#e0262c" stroke-width="2.6" stroke-linecap="round"/>
<path d="M2617.3,1178.7 L2631.9,1193.3 M2617.3,1193.3 L2631.9,1178.7" stroke="#e0262c" stroke-width="2.6" stroke-linecap="round"/>
<path d="M2669.3,1218.0 L2683.9,1232.6 M2669.3,1232.6 L2683.9,1218.0" stroke="#e0262c" stroke-width="2.6" stroke-linecap="round"/>
<path d="M2709.6,1238.2 L2724.2,1252.8 M2709.6,1252.8 L2724.2,1238.2" stroke="#e0262c" stroke-width="2.6" stroke-linecap="round"/>
<path d="M2742.5,1266.7 L2757.1,1281.3 M2742.5,1281.3 L2757.1,1266.7" stroke="#e0262c" stroke-width="2.6" stroke-linecap="round"/>
<path d="M2794.4,1311.3 L2809.0,1325.9 M2794.4,1325.9 L2809.0,1311.3" stroke="#e0262c" stroke-width="2.6" stroke-linecap="round"/>
<path d="M2834.7,1346.2 L2849.3,1360.8 M2834.7,1360.8 L2849.3,1346.2" stroke="#e0262c" stroke-width="2.6" stroke-linecap="round"/>
<text x="1676.4" y="1575.5" font-family='"Liberation Serif", serif' font-size="52.5" font-weight="normal" font-style="normal" text-anchor="end" fill="#231f20" textLength="25.5" lengthAdjust="spacingAndGlyphs">1</text>
<text x="1676.4" y="1352.7" font-family='"Liberation Serif", serif' font-size="52.5" font-weight="normal" font-style="normal" text-anchor="end" fill="#231f20" textLength="51.0" lengthAdjust="spacingAndGlyphs">10</text>
<text x="1676.4" y="1129.8" font-family='"Liberation Serif", serif' font-size="52.5" font-weight="normal" font-style="normal" text-anchor="end" fill="#231f20" textLength="76.5" lengthAdjust="spacingAndGlyphs">100</text>
<text x="1676.4" y="907.0" font-family='"Liberation Serif", serif' font-size="52.5" font-weight="normal" font-style="normal" text-anchor="end" fill="#231f20" textLength="102.0" lengthAdjust="spacingAndGlyphs">1000</text>
<text x="1718.5" y="1636.6" font-family='"Liberation Serif", serif' font-size="52.5" font-weight="normal" font-style="normal" text-anchor="middle" fill="#231f20" textLength="89.2" lengthAdjust="spacingAndGlyphs">0.01</text>
<text x="2134.2" y="1636.6" font-family='"Liberation Serif", serif' font-size="52.5" font-weight="normal" font-style="normal" text-anchor="middle" fill="#231f20" textLength="63.8" lengthAdjust="spacingAndGlyphs">0.1</text>
<text x="2549.9" y="1636.6" font-family='"Liberation Serif", serif' font-size="52.5" font-weight="normal" font-style="normal" text-anchor="middle" fill="#231f20" textLength="25.5" lengthAdjust="spacingAndGlyphs">1</text>
<text x="2840.5" y="1636.6" font-family='"Liberation Serif", serif' font-size="52.5" font-weight="normal" font-style="normal" text-anchor="middle" fill="#231f20" textLength="25.5" lengthAdjust="spacingAndGlyphs">5</text>
<text x="2055.7" y="1689.8" font-family='"Liberation Serif", serif' font-size="63.0" font-weight="bold" font-style="normal" text-anchor="start" fill="#231f20" textLength="494.3" lengthAdjust="spacingAndGlyphs">Spectral period (s)</text>
<text transform="translate(1526.5,1478.3) rotate(-90)" font-family='"Liberation Serif", serif' font-size="62" font-weight="bold" fill="#231f20" textLength="455" lengthAdjust="spacingAndGlyphs">Acc. spectra (gal)</text>
<text x="1454.1" y="897.3" font-family='"Liberation Sans", sans-serif' font-size="67.0" font-weight="normal" font-style="normal" text-anchor="start" fill="#231f20" >(d)</text>
<text x="2744.0" y="981.8" font-family='"Liberation Serif", serif' font-size="75.5" font-weight="normal" font-style="normal" text-anchor="start" fill="#231f20" style="fill:#000" textLength="54.5" lengthAdjust="spacingAndGlyphs">V</text>
<text x="1733.8" y="1383.2" font-family='"Liberation Serif", serif' font-size="57.0" font-weight="normal" font-style="italic" text-anchor="start" fill="#231f20" textLength="52.7" lengthAdjust="spacingAndGlyphs">M</text>
<text x="1785.8" y="1393.2" font-family='"Liberation Serif", serif' font-size="33.0" font-weight="normal" font-style="normal" text-anchor="start" fill="#231f20" textLength="28.8" lengthAdjust="spacingAndGlyphs">W</text>
<text x="1832.4" y="1383.2" font-family='"Liberation Serif", serif' font-size="57.0" font-weight="normal" font-style="normal" text-anchor="start" fill="#231f20" textLength="32.5" lengthAdjust="spacingAndGlyphs">=</text>
<text x="1880.4" y="1383.2" font-family='"Liberation Serif", serif' font-size="57.0" font-weight="normal" font-style="normal" text-anchor="start" fill="#231f20" >6.0</text>
<text x="1735.3" y="1448.8" font-family='"Liberation Serif", serif' font-size="57.0" font-weight="normal" font-style="normal" text-anchor="start" fill="#231f20" >Depth = 10 km</text>
<text x="1735.3" y="1514.4" font-family='"Liberation Serif", serif' font-size="57.0" font-weight="normal" font-style="normal" text-anchor="start" fill="#231f20" >Dist. = 30 km</text>
<line x1="2185.8" y1="1366.2" x2="2285.2" y2="1366.2" stroke="#000000" stroke-width="3.6" stroke-linecap="round"/>
<rect x="2227.3" y="1359.0" width="14.4" height="14.4" fill="#fff" stroke="#000000" stroke-width="2.6" stroke-linejoin="round"/>
<text x="2295.5" y="1382.8" font-family='"Liberation Serif", serif' font-size="52.5" font-weight="normal" font-style="normal" text-anchor="start" fill="#231f20" textLength="68.0" lengthAdjust="spacingAndGlyphs">1%</text>
<line x1="2442.0" y1="1366.2" x2="2541.4" y2="1366.2" stroke="#000000" stroke-width="3.6" stroke-linecap="round"/>
<path d="M2490.7,1359.5 L2497.5,1372.9 L2483.9,1372.9 Z" fill="#fff" stroke="#000000" stroke-width="2.6" stroke-linejoin="round"/>
<text x="2551.7" y="1382.8" font-family='"Liberation Serif", serif' font-size="52.5" font-weight="normal" font-style="normal" text-anchor="start" fill="#231f20" textLength="68.0" lengthAdjust="spacingAndGlyphs">2%</text>
<line x1="2185.8" y1="1437.2" x2="2285.2" y2="1437.2" stroke="#653d8a" stroke-width="3.6" stroke-linecap="round"/>
<circle cx="2234.5" cy="1437.2" r="7.2" fill="#fff" stroke="#653d8a" stroke-width="2.6"/>
<text x="2295.5" y="1453.8" font-family='"Liberation Serif", serif' font-size="52.5" font-weight="normal" font-style="normal" text-anchor="start" fill="#231f20" textLength="68.0" lengthAdjust="spacingAndGlyphs">5%</text>
<line x1="2442.0" y1="1437.2" x2="2541.4" y2="1437.2" stroke="#e0262c" stroke-width="3.6" stroke-linecap="round"/>
<rect x="2483.5" y="1430.0" width="14.4" height="14.4" fill="#fff" stroke="#e0262c" stroke-width="2.6" stroke-linejoin="round"/>
<text x="2551.7" y="1453.8" font-family='"Liberation Serif", serif' font-size="52.5" font-weight="normal" font-style="normal" text-anchor="start" fill="#231f20" textLength="68.0" lengthAdjust="spacingAndGlyphs">8%</text>
<line x1="2185.8" y1="1508.2" x2="2285.2" y2="1508.2" stroke="#e0262c" stroke-width="3.6" stroke-linecap="round"/>
<path d="M2234.5,1501.5 L2241.3,1514.9 L2227.7,1514.9 Z" fill="#fff" stroke="#e0262c" stroke-width="2.6" stroke-linejoin="round"/>
<text x="2295.5" y="1524.8" font-family='"Liberation Serif", serif' font-size="52.5" font-weight="normal" font-style="normal" text-anchor="start" fill="#231f20" textLength="93.5" lengthAdjust="spacingAndGlyphs">15%</text>
<line x1="2442.0" y1="1508.2" x2="2541.4" y2="1508.2" stroke="#e0262c" stroke-width="3.6" stroke-linecap="round"/>
<path d="M2483.8,1501.3 L2497.6,1515.1 M2483.8,1515.1 L2497.6,1501.3" stroke="#e0262c" stroke-width="2.6" stroke-linecap="round"/>
<text x="2551.7" y="1524.8" font-family='"Liberation Serif", serif' font-size="52.5" font-weight="normal" font-style="normal" text-anchor="start" fill="#231f20" textLength="93.5" lengthAdjust="spacingAndGlyphs">30%</text>
</g>
</svg></body></html>
